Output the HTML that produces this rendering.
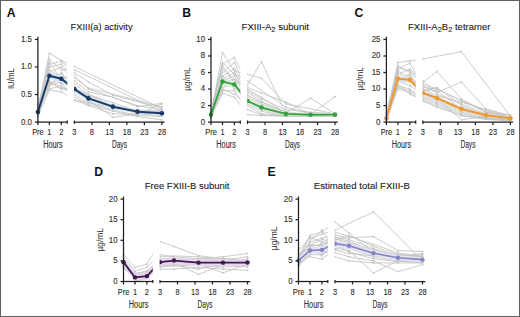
<!DOCTYPE html><html><head><meta charset="utf-8"><style>html,body{margin:0;padding:0;background:#fff;}svg{display:block;font-family:"Liberation Sans", sans-serif;}</style></head><body>
<svg width="520" height="317" viewBox="0 0 520 317">
<rect x="0" y="0" width="520" height="317" fill="#fff"/>
<defs></defs>
<g font-size="12.2" font-weight="bold" fill="#111">
<text x="6.8" y="16.7">A</text>
<text x="182.2" y="16.8">B</text>
<text x="354.5" y="16.8">C</text>
<text x="94.3" y="175.6">D</text>
<text x="267.6" y="175.6">E</text>
</g>
<clipPath id="hA"><rect x="31.9" y="19.45" width="35.3" height="105.65"/></clipPath>
<clipPath id="dA"><rect x="74.2" y="19.45" width="95.5" height="105.65"/></clipPath>
<g clip-path="url(#hA)">
<polyline points="37.9,108.32 49.4,53.22 61.3,60.39 74.4,66.45 161.9,108.6" fill="none" stroke="#c3c3c3" stroke-width="0.85" stroke-linejoin="round"/>
<polyline points="37.9,111.08 49.4,58.74 61.3,69.75 74.4,69.75 161.9,111.63" fill="none" stroke="#c3c3c3" stroke-width="0.85" stroke-linejoin="round"/>
<polyline points="37.9,109.98 49.4,64.25 61.3,61.49 74.4,72.51 88.4,81.88 112.9,95.1 161.9,108.32" fill="none" stroke="#c3c3c3" stroke-width="0.85" stroke-linejoin="round"/>
<polyline points="37.9,113.83 49.4,69.75 61.3,78.02 74.4,75.27 88.4,89.04 137.4,105.57 161.9,109.98" fill="none" stroke="#c3c3c3" stroke-width="0.85" stroke-linejoin="round"/>
<polyline points="37.9,112.18 49.4,72.51 61.3,67 74.4,80.78 88.4,91.79 112.9,97.3 137.4,106.67 161.9,103.37" fill="none" stroke="#c3c3c3" stroke-width="0.85" stroke-linejoin="round"/>
<polyline points="37.9,115.49 49.4,75.27 61.3,83.53 74.4,83.53 88.4,94.55 112.9,102.81 137.4,111.08 161.9,112.18" fill="none" stroke="#c3c3c3" stroke-width="0.85" stroke-linejoin="round"/>
<polyline points="37.9,111.08 49.4,78.02 61.3,73.61 74.4,86.28 88.4,97.3 112.9,105.57 137.4,111.08 161.9,113.83" fill="none" stroke="#c3c3c3" stroke-width="0.85" stroke-linejoin="round"/>
<polyline points="37.9,113.28 49.4,80.78 61.3,87.94 74.4,89.04 88.4,98.96 112.9,108.32 137.4,112.18 161.9,114.39" fill="none" stroke="#c3c3c3" stroke-width="0.85" stroke-linejoin="round"/>
<polyline points="37.9,108.32 49.4,83.53 61.3,79.12 74.4,91.79 88.4,100.06 112.9,117.36 137.4,113.83 161.9,115.49" fill="none" stroke="#c3c3c3" stroke-width="0.85" stroke-linejoin="round"/>
<polyline points="37.9,114.39 49.4,86.28 61.3,72.51 74.4,94.55 88.4,102.81 112.9,109.98 137.4,115.49 161.9,116.59" fill="none" stroke="#c3c3c3" stroke-width="0.85" stroke-linejoin="round"/>
<polyline points="37.9,109.98 49.4,89.04 61.3,85.73 74.4,97.3 88.4,104.47 112.9,111.08 137.4,116.59 161.9,119.9" fill="none" stroke="#c3c3c3" stroke-width="0.85" stroke-linejoin="round"/>
<polyline points="37.9,116.59 49.4,90.14 61.3,91.79 74.4,100.06 88.4,105.57 112.9,113.83 137.4,114.39 161.9,103.92" fill="none" stroke="#c3c3c3" stroke-width="0.85" stroke-linejoin="round"/>
<polyline points="37.9,105.57 49.4,67 61.3,64.25 74.4,78.02 88.4,87.94 161.9,106.67" fill="none" stroke="#c3c3c3" stroke-width="0.85" stroke-linejoin="round"/>
<polyline points="37.9,112.18 49.4,61.49 61.3,80.78 74.4,87.94 88.4,94.55 112.9,105.57 137.4,109.98 161.9,111.08" fill="none" stroke="#c3c3c3" stroke-width="0.85" stroke-linejoin="round"/>
<polyline points="37.9,111.08 49.4,82.43 61.3,89.04 74.4,90.14 88.4,95.65 112.9,106.67 137.4,111.08 161.9,112.18" fill="none" stroke="#c3c3c3" stroke-width="0.85" stroke-linejoin="round"/>
<polyline points="37.9,108.88 49.4,84.63 61.3,82.43 74.4,100.61 88.4,102.26 112.9,107.77 137.4,113.28 161.9,111.08" fill="none" stroke="#c3c3c3" stroke-width="0.85" stroke-linejoin="round"/>
<circle cx="37.9" cy="108.32" r="0.9" fill="#c3c3c3"/>
<circle cx="49.4" cy="53.22" r="0.9" fill="#c3c3c3"/>
<circle cx="61.3" cy="60.39" r="0.9" fill="#c3c3c3"/>
<circle cx="74.4" cy="66.45" r="0.9" fill="#c3c3c3"/>
<circle cx="161.9" cy="108.6" r="0.9" fill="#c3c3c3"/>
<circle cx="37.9" cy="111.08" r="0.9" fill="#c3c3c3"/>
<circle cx="49.4" cy="58.74" r="0.9" fill="#c3c3c3"/>
<circle cx="61.3" cy="69.75" r="0.9" fill="#c3c3c3"/>
<circle cx="74.4" cy="69.75" r="0.9" fill="#c3c3c3"/>
<circle cx="161.9" cy="111.63" r="0.9" fill="#c3c3c3"/>
<circle cx="37.9" cy="109.98" r="0.9" fill="#c3c3c3"/>
<circle cx="49.4" cy="64.25" r="0.9" fill="#c3c3c3"/>
<circle cx="61.3" cy="61.49" r="0.9" fill="#c3c3c3"/>
<circle cx="74.4" cy="72.51" r="0.9" fill="#c3c3c3"/>
<circle cx="88.4" cy="81.88" r="0.9" fill="#c3c3c3"/>
<circle cx="112.9" cy="95.1" r="0.9" fill="#c3c3c3"/>
<circle cx="161.9" cy="108.32" r="0.9" fill="#c3c3c3"/>
<circle cx="37.9" cy="113.83" r="0.9" fill="#c3c3c3"/>
<circle cx="49.4" cy="69.75" r="0.9" fill="#c3c3c3"/>
<circle cx="61.3" cy="78.02" r="0.9" fill="#c3c3c3"/>
<circle cx="74.4" cy="75.27" r="0.9" fill="#c3c3c3"/>
<circle cx="88.4" cy="89.04" r="0.9" fill="#c3c3c3"/>
<circle cx="137.4" cy="105.57" r="0.9" fill="#c3c3c3"/>
<circle cx="161.9" cy="109.98" r="0.9" fill="#c3c3c3"/>
<circle cx="37.9" cy="112.18" r="0.9" fill="#c3c3c3"/>
<circle cx="49.4" cy="72.51" r="0.9" fill="#c3c3c3"/>
<circle cx="61.3" cy="67" r="0.9" fill="#c3c3c3"/>
<circle cx="74.4" cy="80.78" r="0.9" fill="#c3c3c3"/>
<circle cx="88.4" cy="91.79" r="0.9" fill="#c3c3c3"/>
<circle cx="112.9" cy="97.3" r="0.9" fill="#c3c3c3"/>
<circle cx="137.4" cy="106.67" r="0.9" fill="#c3c3c3"/>
<circle cx="161.9" cy="103.37" r="0.9" fill="#c3c3c3"/>
<circle cx="37.9" cy="115.49" r="0.9" fill="#c3c3c3"/>
<circle cx="49.4" cy="75.27" r="0.9" fill="#c3c3c3"/>
<circle cx="61.3" cy="83.53" r="0.9" fill="#c3c3c3"/>
<circle cx="74.4" cy="83.53" r="0.9" fill="#c3c3c3"/>
<circle cx="88.4" cy="94.55" r="0.9" fill="#c3c3c3"/>
<circle cx="112.9" cy="102.81" r="0.9" fill="#c3c3c3"/>
<circle cx="137.4" cy="111.08" r="0.9" fill="#c3c3c3"/>
<circle cx="161.9" cy="112.18" r="0.9" fill="#c3c3c3"/>
<circle cx="37.9" cy="111.08" r="0.9" fill="#c3c3c3"/>
<circle cx="49.4" cy="78.02" r="0.9" fill="#c3c3c3"/>
<circle cx="61.3" cy="73.61" r="0.9" fill="#c3c3c3"/>
<circle cx="74.4" cy="86.28" r="0.9" fill="#c3c3c3"/>
<circle cx="88.4" cy="97.3" r="0.9" fill="#c3c3c3"/>
<circle cx="112.9" cy="105.57" r="0.9" fill="#c3c3c3"/>
<circle cx="137.4" cy="111.08" r="0.9" fill="#c3c3c3"/>
<circle cx="161.9" cy="113.83" r="0.9" fill="#c3c3c3"/>
<circle cx="37.9" cy="113.28" r="0.9" fill="#c3c3c3"/>
<circle cx="49.4" cy="80.78" r="0.9" fill="#c3c3c3"/>
<circle cx="61.3" cy="87.94" r="0.9" fill="#c3c3c3"/>
<circle cx="74.4" cy="89.04" r="0.9" fill="#c3c3c3"/>
<circle cx="88.4" cy="98.96" r="0.9" fill="#c3c3c3"/>
<circle cx="112.9" cy="108.32" r="0.9" fill="#c3c3c3"/>
<circle cx="137.4" cy="112.18" r="0.9" fill="#c3c3c3"/>
<circle cx="161.9" cy="114.39" r="0.9" fill="#c3c3c3"/>
<circle cx="37.9" cy="108.32" r="0.9" fill="#c3c3c3"/>
<circle cx="49.4" cy="83.53" r="0.9" fill="#c3c3c3"/>
<circle cx="61.3" cy="79.12" r="0.9" fill="#c3c3c3"/>
<circle cx="74.4" cy="91.79" r="0.9" fill="#c3c3c3"/>
<circle cx="88.4" cy="100.06" r="0.9" fill="#c3c3c3"/>
<circle cx="112.9" cy="117.36" r="0.9" fill="#c3c3c3"/>
<circle cx="137.4" cy="113.83" r="0.9" fill="#c3c3c3"/>
<circle cx="161.9" cy="115.49" r="0.9" fill="#c3c3c3"/>
<circle cx="37.9" cy="114.39" r="0.9" fill="#c3c3c3"/>
<circle cx="49.4" cy="86.28" r="0.9" fill="#c3c3c3"/>
<circle cx="61.3" cy="72.51" r="0.9" fill="#c3c3c3"/>
<circle cx="74.4" cy="94.55" r="0.9" fill="#c3c3c3"/>
<circle cx="88.4" cy="102.81" r="0.9" fill="#c3c3c3"/>
<circle cx="112.9" cy="109.98" r="0.9" fill="#c3c3c3"/>
<circle cx="137.4" cy="115.49" r="0.9" fill="#c3c3c3"/>
<circle cx="161.9" cy="116.59" r="0.9" fill="#c3c3c3"/>
<circle cx="37.9" cy="109.98" r="0.9" fill="#c3c3c3"/>
<circle cx="49.4" cy="89.04" r="0.9" fill="#c3c3c3"/>
<circle cx="61.3" cy="85.73" r="0.9" fill="#c3c3c3"/>
<circle cx="74.4" cy="97.3" r="0.9" fill="#c3c3c3"/>
<circle cx="88.4" cy="104.47" r="0.9" fill="#c3c3c3"/>
<circle cx="112.9" cy="111.08" r="0.9" fill="#c3c3c3"/>
<circle cx="137.4" cy="116.59" r="0.9" fill="#c3c3c3"/>
<circle cx="161.9" cy="119.9" r="0.9" fill="#c3c3c3"/>
<circle cx="37.9" cy="116.59" r="0.9" fill="#c3c3c3"/>
<circle cx="49.4" cy="90.14" r="0.9" fill="#c3c3c3"/>
<circle cx="61.3" cy="91.79" r="0.9" fill="#c3c3c3"/>
<circle cx="74.4" cy="100.06" r="0.9" fill="#c3c3c3"/>
<circle cx="88.4" cy="105.57" r="0.9" fill="#c3c3c3"/>
<circle cx="112.9" cy="113.83" r="0.9" fill="#c3c3c3"/>
<circle cx="137.4" cy="114.39" r="0.9" fill="#c3c3c3"/>
<circle cx="161.9" cy="103.92" r="0.9" fill="#c3c3c3"/>
<circle cx="37.9" cy="105.57" r="0.9" fill="#c3c3c3"/>
<circle cx="49.4" cy="67" r="0.9" fill="#c3c3c3"/>
<circle cx="61.3" cy="64.25" r="0.9" fill="#c3c3c3"/>
<circle cx="74.4" cy="78.02" r="0.9" fill="#c3c3c3"/>
<circle cx="88.4" cy="87.94" r="0.9" fill="#c3c3c3"/>
<circle cx="161.9" cy="106.67" r="0.9" fill="#c3c3c3"/>
<circle cx="37.9" cy="112.18" r="0.9" fill="#c3c3c3"/>
<circle cx="49.4" cy="61.49" r="0.9" fill="#c3c3c3"/>
<circle cx="61.3" cy="80.78" r="0.9" fill="#c3c3c3"/>
<circle cx="74.4" cy="87.94" r="0.9" fill="#c3c3c3"/>
<circle cx="88.4" cy="94.55" r="0.9" fill="#c3c3c3"/>
<circle cx="112.9" cy="105.57" r="0.9" fill="#c3c3c3"/>
<circle cx="137.4" cy="109.98" r="0.9" fill="#c3c3c3"/>
<circle cx="161.9" cy="111.08" r="0.9" fill="#c3c3c3"/>
<circle cx="37.9" cy="111.08" r="0.9" fill="#c3c3c3"/>
<circle cx="49.4" cy="82.43" r="0.9" fill="#c3c3c3"/>
<circle cx="61.3" cy="89.04" r="0.9" fill="#c3c3c3"/>
<circle cx="74.4" cy="90.14" r="0.9" fill="#c3c3c3"/>
<circle cx="88.4" cy="95.65" r="0.9" fill="#c3c3c3"/>
<circle cx="112.9" cy="106.67" r="0.9" fill="#c3c3c3"/>
<circle cx="137.4" cy="111.08" r="0.9" fill="#c3c3c3"/>
<circle cx="161.9" cy="112.18" r="0.9" fill="#c3c3c3"/>
<circle cx="37.9" cy="108.88" r="0.9" fill="#c3c3c3"/>
<circle cx="49.4" cy="84.63" r="0.9" fill="#c3c3c3"/>
<circle cx="61.3" cy="82.43" r="0.9" fill="#c3c3c3"/>
<circle cx="74.4" cy="100.61" r="0.9" fill="#c3c3c3"/>
<circle cx="88.4" cy="102.26" r="0.9" fill="#c3c3c3"/>
<circle cx="112.9" cy="107.77" r="0.9" fill="#c3c3c3"/>
<circle cx="137.4" cy="113.28" r="0.9" fill="#c3c3c3"/>
<circle cx="161.9" cy="111.08" r="0.9" fill="#c3c3c3"/>
<polygon points="37.9,109.76 49.4,72.51 61.3,75.43 74.4,86.28 88.4,96.2 112.9,105.02 137.4,110.25 161.9,111.91 161.9,114.66 137.4,113.01 112.9,108.32 88.4,100.61 74.4,91.8 61.3,82.04 49.4,79.12 37.9,114.17" fill="#d6e4f3" />
<polyline points="37.9,111.96 49.4,75.82 61.3,78.74 74.4,89.04 88.4,98.41 112.9,106.67 137.4,111.63 161.9,113.28" fill="none" stroke="#173a66" stroke-width="2.0" stroke-linejoin="round"/>
<circle cx="37.9" cy="111.96" r="2.3" fill="#173a66"/>
<circle cx="49.4" cy="75.82" r="2.3" fill="#173a66"/>
<circle cx="61.3" cy="78.74" r="2.3" fill="#173a66"/>
<circle cx="74.4" cy="89.04" r="2.3" fill="#173a66"/>
<circle cx="88.4" cy="98.41" r="2.3" fill="#173a66"/>
<circle cx="112.9" cy="106.67" r="2.3" fill="#173a66"/>
<circle cx="137.4" cy="111.63" r="2.3" fill="#173a66"/>
<circle cx="161.9" cy="113.28" r="2.3" fill="#173a66"/>
</g>
<g clip-path="url(#dA)">
<polyline points="37.9,108.32 49.4,53.22 61.3,60.39 74.4,66.45 161.9,108.6" fill="none" stroke="#c3c3c3" stroke-width="0.85" stroke-linejoin="round"/>
<polyline points="37.9,111.08 49.4,58.74 61.3,69.75 74.4,69.75 161.9,111.63" fill="none" stroke="#c3c3c3" stroke-width="0.85" stroke-linejoin="round"/>
<polyline points="37.9,109.98 49.4,64.25 61.3,61.49 74.4,72.51 88.4,81.88 112.9,95.1 161.9,108.32" fill="none" stroke="#c3c3c3" stroke-width="0.85" stroke-linejoin="round"/>
<polyline points="37.9,113.83 49.4,69.75 61.3,78.02 74.4,75.27 88.4,89.04 137.4,105.57 161.9,109.98" fill="none" stroke="#c3c3c3" stroke-width="0.85" stroke-linejoin="round"/>
<polyline points="37.9,112.18 49.4,72.51 61.3,67 74.4,80.78 88.4,91.79 112.9,97.3 137.4,106.67 161.9,103.37" fill="none" stroke="#c3c3c3" stroke-width="0.85" stroke-linejoin="round"/>
<polyline points="37.9,115.49 49.4,75.27 61.3,83.53 74.4,83.53 88.4,94.55 112.9,102.81 137.4,111.08 161.9,112.18" fill="none" stroke="#c3c3c3" stroke-width="0.85" stroke-linejoin="round"/>
<polyline points="37.9,111.08 49.4,78.02 61.3,73.61 74.4,86.28 88.4,97.3 112.9,105.57 137.4,111.08 161.9,113.83" fill="none" stroke="#c3c3c3" stroke-width="0.85" stroke-linejoin="round"/>
<polyline points="37.9,113.28 49.4,80.78 61.3,87.94 74.4,89.04 88.4,98.96 112.9,108.32 137.4,112.18 161.9,114.39" fill="none" stroke="#c3c3c3" stroke-width="0.85" stroke-linejoin="round"/>
<polyline points="37.9,108.32 49.4,83.53 61.3,79.12 74.4,91.79 88.4,100.06 112.9,117.36 137.4,113.83 161.9,115.49" fill="none" stroke="#c3c3c3" stroke-width="0.85" stroke-linejoin="round"/>
<polyline points="37.9,114.39 49.4,86.28 61.3,72.51 74.4,94.55 88.4,102.81 112.9,109.98 137.4,115.49 161.9,116.59" fill="none" stroke="#c3c3c3" stroke-width="0.85" stroke-linejoin="round"/>
<polyline points="37.9,109.98 49.4,89.04 61.3,85.73 74.4,97.3 88.4,104.47 112.9,111.08 137.4,116.59 161.9,119.9" fill="none" stroke="#c3c3c3" stroke-width="0.85" stroke-linejoin="round"/>
<polyline points="37.9,116.59 49.4,90.14 61.3,91.79 74.4,100.06 88.4,105.57 112.9,113.83 137.4,114.39 161.9,103.92" fill="none" stroke="#c3c3c3" stroke-width="0.85" stroke-linejoin="round"/>
<polyline points="37.9,105.57 49.4,67 61.3,64.25 74.4,78.02 88.4,87.94 161.9,106.67" fill="none" stroke="#c3c3c3" stroke-width="0.85" stroke-linejoin="round"/>
<polyline points="37.9,112.18 49.4,61.49 61.3,80.78 74.4,87.94 88.4,94.55 112.9,105.57 137.4,109.98 161.9,111.08" fill="none" stroke="#c3c3c3" stroke-width="0.85" stroke-linejoin="round"/>
<polyline points="37.9,111.08 49.4,82.43 61.3,89.04 74.4,90.14 88.4,95.65 112.9,106.67 137.4,111.08 161.9,112.18" fill="none" stroke="#c3c3c3" stroke-width="0.85" stroke-linejoin="round"/>
<polyline points="37.9,108.88 49.4,84.63 61.3,82.43 74.4,100.61 88.4,102.26 112.9,107.77 137.4,113.28 161.9,111.08" fill="none" stroke="#c3c3c3" stroke-width="0.85" stroke-linejoin="round"/>
<circle cx="37.9" cy="108.32" r="0.9" fill="#c3c3c3"/>
<circle cx="49.4" cy="53.22" r="0.9" fill="#c3c3c3"/>
<circle cx="61.3" cy="60.39" r="0.9" fill="#c3c3c3"/>
<circle cx="74.4" cy="66.45" r="0.9" fill="#c3c3c3"/>
<circle cx="161.9" cy="108.6" r="0.9" fill="#c3c3c3"/>
<circle cx="37.9" cy="111.08" r="0.9" fill="#c3c3c3"/>
<circle cx="49.4" cy="58.74" r="0.9" fill="#c3c3c3"/>
<circle cx="61.3" cy="69.75" r="0.9" fill="#c3c3c3"/>
<circle cx="74.4" cy="69.75" r="0.9" fill="#c3c3c3"/>
<circle cx="161.9" cy="111.63" r="0.9" fill="#c3c3c3"/>
<circle cx="37.9" cy="109.98" r="0.9" fill="#c3c3c3"/>
<circle cx="49.4" cy="64.25" r="0.9" fill="#c3c3c3"/>
<circle cx="61.3" cy="61.49" r="0.9" fill="#c3c3c3"/>
<circle cx="74.4" cy="72.51" r="0.9" fill="#c3c3c3"/>
<circle cx="88.4" cy="81.88" r="0.9" fill="#c3c3c3"/>
<circle cx="112.9" cy="95.1" r="0.9" fill="#c3c3c3"/>
<circle cx="161.9" cy="108.32" r="0.9" fill="#c3c3c3"/>
<circle cx="37.9" cy="113.83" r="0.9" fill="#c3c3c3"/>
<circle cx="49.4" cy="69.75" r="0.9" fill="#c3c3c3"/>
<circle cx="61.3" cy="78.02" r="0.9" fill="#c3c3c3"/>
<circle cx="74.4" cy="75.27" r="0.9" fill="#c3c3c3"/>
<circle cx="88.4" cy="89.04" r="0.9" fill="#c3c3c3"/>
<circle cx="137.4" cy="105.57" r="0.9" fill="#c3c3c3"/>
<circle cx="161.9" cy="109.98" r="0.9" fill="#c3c3c3"/>
<circle cx="37.9" cy="112.18" r="0.9" fill="#c3c3c3"/>
<circle cx="49.4" cy="72.51" r="0.9" fill="#c3c3c3"/>
<circle cx="61.3" cy="67" r="0.9" fill="#c3c3c3"/>
<circle cx="74.4" cy="80.78" r="0.9" fill="#c3c3c3"/>
<circle cx="88.4" cy="91.79" r="0.9" fill="#c3c3c3"/>
<circle cx="112.9" cy="97.3" r="0.9" fill="#c3c3c3"/>
<circle cx="137.4" cy="106.67" r="0.9" fill="#c3c3c3"/>
<circle cx="161.9" cy="103.37" r="0.9" fill="#c3c3c3"/>
<circle cx="37.9" cy="115.49" r="0.9" fill="#c3c3c3"/>
<circle cx="49.4" cy="75.27" r="0.9" fill="#c3c3c3"/>
<circle cx="61.3" cy="83.53" r="0.9" fill="#c3c3c3"/>
<circle cx="74.4" cy="83.53" r="0.9" fill="#c3c3c3"/>
<circle cx="88.4" cy="94.55" r="0.9" fill="#c3c3c3"/>
<circle cx="112.9" cy="102.81" r="0.9" fill="#c3c3c3"/>
<circle cx="137.4" cy="111.08" r="0.9" fill="#c3c3c3"/>
<circle cx="161.9" cy="112.18" r="0.9" fill="#c3c3c3"/>
<circle cx="37.9" cy="111.08" r="0.9" fill="#c3c3c3"/>
<circle cx="49.4" cy="78.02" r="0.9" fill="#c3c3c3"/>
<circle cx="61.3" cy="73.61" r="0.9" fill="#c3c3c3"/>
<circle cx="74.4" cy="86.28" r="0.9" fill="#c3c3c3"/>
<circle cx="88.4" cy="97.3" r="0.9" fill="#c3c3c3"/>
<circle cx="112.9" cy="105.57" r="0.9" fill="#c3c3c3"/>
<circle cx="137.4" cy="111.08" r="0.9" fill="#c3c3c3"/>
<circle cx="161.9" cy="113.83" r="0.9" fill="#c3c3c3"/>
<circle cx="37.9" cy="113.28" r="0.9" fill="#c3c3c3"/>
<circle cx="49.4" cy="80.78" r="0.9" fill="#c3c3c3"/>
<circle cx="61.3" cy="87.94" r="0.9" fill="#c3c3c3"/>
<circle cx="74.4" cy="89.04" r="0.9" fill="#c3c3c3"/>
<circle cx="88.4" cy="98.96" r="0.9" fill="#c3c3c3"/>
<circle cx="112.9" cy="108.32" r="0.9" fill="#c3c3c3"/>
<circle cx="137.4" cy="112.18" r="0.9" fill="#c3c3c3"/>
<circle cx="161.9" cy="114.39" r="0.9" fill="#c3c3c3"/>
<circle cx="37.9" cy="108.32" r="0.9" fill="#c3c3c3"/>
<circle cx="49.4" cy="83.53" r="0.9" fill="#c3c3c3"/>
<circle cx="61.3" cy="79.12" r="0.9" fill="#c3c3c3"/>
<circle cx="74.4" cy="91.79" r="0.9" fill="#c3c3c3"/>
<circle cx="88.4" cy="100.06" r="0.9" fill="#c3c3c3"/>
<circle cx="112.9" cy="117.36" r="0.9" fill="#c3c3c3"/>
<circle cx="137.4" cy="113.83" r="0.9" fill="#c3c3c3"/>
<circle cx="161.9" cy="115.49" r="0.9" fill="#c3c3c3"/>
<circle cx="37.9" cy="114.39" r="0.9" fill="#c3c3c3"/>
<circle cx="49.4" cy="86.28" r="0.9" fill="#c3c3c3"/>
<circle cx="61.3" cy="72.51" r="0.9" fill="#c3c3c3"/>
<circle cx="74.4" cy="94.55" r="0.9" fill="#c3c3c3"/>
<circle cx="88.4" cy="102.81" r="0.9" fill="#c3c3c3"/>
<circle cx="112.9" cy="109.98" r="0.9" fill="#c3c3c3"/>
<circle cx="137.4" cy="115.49" r="0.9" fill="#c3c3c3"/>
<circle cx="161.9" cy="116.59" r="0.9" fill="#c3c3c3"/>
<circle cx="37.9" cy="109.98" r="0.9" fill="#c3c3c3"/>
<circle cx="49.4" cy="89.04" r="0.9" fill="#c3c3c3"/>
<circle cx="61.3" cy="85.73" r="0.9" fill="#c3c3c3"/>
<circle cx="74.4" cy="97.3" r="0.9" fill="#c3c3c3"/>
<circle cx="88.4" cy="104.47" r="0.9" fill="#c3c3c3"/>
<circle cx="112.9" cy="111.08" r="0.9" fill="#c3c3c3"/>
<circle cx="137.4" cy="116.59" r="0.9" fill="#c3c3c3"/>
<circle cx="161.9" cy="119.9" r="0.9" fill="#c3c3c3"/>
<circle cx="37.9" cy="116.59" r="0.9" fill="#c3c3c3"/>
<circle cx="49.4" cy="90.14" r="0.9" fill="#c3c3c3"/>
<circle cx="61.3" cy="91.79" r="0.9" fill="#c3c3c3"/>
<circle cx="74.4" cy="100.06" r="0.9" fill="#c3c3c3"/>
<circle cx="88.4" cy="105.57" r="0.9" fill="#c3c3c3"/>
<circle cx="112.9" cy="113.83" r="0.9" fill="#c3c3c3"/>
<circle cx="137.4" cy="114.39" r="0.9" fill="#c3c3c3"/>
<circle cx="161.9" cy="103.92" r="0.9" fill="#c3c3c3"/>
<circle cx="37.9" cy="105.57" r="0.9" fill="#c3c3c3"/>
<circle cx="49.4" cy="67" r="0.9" fill="#c3c3c3"/>
<circle cx="61.3" cy="64.25" r="0.9" fill="#c3c3c3"/>
<circle cx="74.4" cy="78.02" r="0.9" fill="#c3c3c3"/>
<circle cx="88.4" cy="87.94" r="0.9" fill="#c3c3c3"/>
<circle cx="161.9" cy="106.67" r="0.9" fill="#c3c3c3"/>
<circle cx="37.9" cy="112.18" r="0.9" fill="#c3c3c3"/>
<circle cx="49.4" cy="61.49" r="0.9" fill="#c3c3c3"/>
<circle cx="61.3" cy="80.78" r="0.9" fill="#c3c3c3"/>
<circle cx="74.4" cy="87.94" r="0.9" fill="#c3c3c3"/>
<circle cx="88.4" cy="94.55" r="0.9" fill="#c3c3c3"/>
<circle cx="112.9" cy="105.57" r="0.9" fill="#c3c3c3"/>
<circle cx="137.4" cy="109.98" r="0.9" fill="#c3c3c3"/>
<circle cx="161.9" cy="111.08" r="0.9" fill="#c3c3c3"/>
<circle cx="37.9" cy="111.08" r="0.9" fill="#c3c3c3"/>
<circle cx="49.4" cy="82.43" r="0.9" fill="#c3c3c3"/>
<circle cx="61.3" cy="89.04" r="0.9" fill="#c3c3c3"/>
<circle cx="74.4" cy="90.14" r="0.9" fill="#c3c3c3"/>
<circle cx="88.4" cy="95.65" r="0.9" fill="#c3c3c3"/>
<circle cx="112.9" cy="106.67" r="0.9" fill="#c3c3c3"/>
<circle cx="137.4" cy="111.08" r="0.9" fill="#c3c3c3"/>
<circle cx="161.9" cy="112.18" r="0.9" fill="#c3c3c3"/>
<circle cx="37.9" cy="108.88" r="0.9" fill="#c3c3c3"/>
<circle cx="49.4" cy="84.63" r="0.9" fill="#c3c3c3"/>
<circle cx="61.3" cy="82.43" r="0.9" fill="#c3c3c3"/>
<circle cx="74.4" cy="100.61" r="0.9" fill="#c3c3c3"/>
<circle cx="88.4" cy="102.26" r="0.9" fill="#c3c3c3"/>
<circle cx="112.9" cy="107.77" r="0.9" fill="#c3c3c3"/>
<circle cx="137.4" cy="113.28" r="0.9" fill="#c3c3c3"/>
<circle cx="161.9" cy="111.08" r="0.9" fill="#c3c3c3"/>
<polygon points="37.9,109.76 49.4,72.51 61.3,75.43 74.4,86.28 88.4,96.2 112.9,105.02 137.4,110.25 161.9,111.91 161.9,114.66 137.4,113.01 112.9,108.32 88.4,100.61 74.4,91.8 61.3,82.04 49.4,79.12 37.9,114.17" fill="#d6e4f3" />
<polyline points="37.9,111.96 49.4,75.82 61.3,78.74 74.4,89.04 88.4,98.41 112.9,106.67 137.4,111.63 161.9,113.28" fill="none" stroke="#173a66" stroke-width="2.0" stroke-linejoin="round"/>
<circle cx="37.9" cy="111.96" r="2.3" fill="#173a66"/>
<circle cx="49.4" cy="75.82" r="2.3" fill="#173a66"/>
<circle cx="61.3" cy="78.74" r="2.3" fill="#173a66"/>
<circle cx="74.4" cy="89.04" r="2.3" fill="#173a66"/>
<circle cx="88.4" cy="98.41" r="2.3" fill="#173a66"/>
<circle cx="112.9" cy="106.67" r="2.3" fill="#173a66"/>
<circle cx="137.4" cy="111.63" r="2.3" fill="#173a66"/>
<circle cx="161.9" cy="113.28" r="2.3" fill="#173a66"/>
</g>
<g stroke="#1e1e1e" stroke-width="1.25" fill="none">
<line x1="37.9" y1="36.85" x2="37.9" y2="125.1"/>
<line x1="34.9" y1="122.1" x2="37.9" y2="122.1"/>
<line x1="34.9" y1="94.55" x2="37.9" y2="94.55"/>
<line x1="34.9" y1="67" x2="37.9" y2="67"/>
<line x1="34.9" y1="39.45" x2="37.9" y2="39.45"/>
<line x1="37.9" y1="122.1" x2="67.2" y2="122.1"/>
<line x1="67.2" y1="120.5" x2="67.2" y2="123.7"/>
<line x1="49.4" y1="122.1" x2="49.4" y2="125.1"/>
<line x1="61.3" y1="122.1" x2="61.3" y2="125.1"/>
<line x1="74.4" y1="122.1" x2="164.7" y2="122.1"/>
<line x1="74.4" y1="120.5" x2="74.4" y2="123.9"/>
<line x1="91.9" y1="122.1" x2="91.9" y2="125.1"/>
<line x1="109.4" y1="122.1" x2="109.4" y2="125.1"/>
<line x1="126.9" y1="122.1" x2="126.9" y2="125.1"/>
<line x1="144.4" y1="122.1" x2="144.4" y2="125.1"/>
<line x1="161.9" y1="122.1" x2="161.9" y2="125.1"/>
</g>
<g fill="#2e2e2e" stroke="#2e2e2e" stroke-width="0.12">
<text x="32" y="124.55" font-size="9.0" text-anchor="end" textLength="10.98" lengthAdjust="spacingAndGlyphs">0.0</text>
<text x="32" y="97" font-size="9.0" text-anchor="end" textLength="10.98" lengthAdjust="spacingAndGlyphs">0.5</text>
<text x="32" y="69.45" font-size="9.0" text-anchor="end" textLength="10.98" lengthAdjust="spacingAndGlyphs">1.0</text>
<text x="32" y="41.9" font-size="9.0" text-anchor="end" textLength="10.98" lengthAdjust="spacingAndGlyphs">1.5</text>
<text x="37.9" y="135" font-size="9.0" text-anchor="middle" textLength="11.52" lengthAdjust="spacingAndGlyphs">Pre</text>
<text x="49.4" y="135" font-size="9.0" text-anchor="middle" textLength="4.12" lengthAdjust="spacingAndGlyphs">1</text>
<text x="61.3" y="135" font-size="9.0" text-anchor="middle" textLength="4.12" lengthAdjust="spacingAndGlyphs">2</text>
<text x="74.4" y="135" font-size="9.0" text-anchor="middle" textLength="4.12" lengthAdjust="spacingAndGlyphs">3</text>
<text x="91.9" y="135" font-size="9.0" text-anchor="middle" textLength="4.12" lengthAdjust="spacingAndGlyphs">8</text>
<text x="109.4" y="135" font-size="9.0" text-anchor="middle" textLength="8.23" lengthAdjust="spacingAndGlyphs">13</text>
<text x="126.9" y="135" font-size="9.0" text-anchor="middle" textLength="8.23" lengthAdjust="spacingAndGlyphs">18</text>
<text x="144.4" y="135" font-size="9.0" text-anchor="middle" textLength="8.23" lengthAdjust="spacingAndGlyphs">23</text>
<text x="161.9" y="135" font-size="9.0" text-anchor="middle" textLength="8.23" lengthAdjust="spacingAndGlyphs">28</text>
<text x="52.95" y="148" font-size="10.0" text-anchor="middle" textLength="19.47" lengthAdjust="spacingAndGlyphs">Hours</text>
<text x="119.45" y="148" font-size="10.0" text-anchor="middle" textLength="15.04" lengthAdjust="spacingAndGlyphs">Days</text>
</g>
<text transform="translate(14.4,78.6) rotate(-90)" font-size="8.8" fill="#2e2e2e" text-anchor="middle" textLength="21" lengthAdjust="spacingAndGlyphs">IU/mL</text>
<text x="70.6" y="30.4" font-size="9.7" fill="#222" stroke="#222" stroke-width="0.1" textLength="62" lengthAdjust="spacingAndGlyphs">FXIII(a) activity</text>
<clipPath id="hB"><rect x="205" y="19.45" width="35.3" height="105.65"/></clipPath>
<clipPath id="dB"><rect x="247.3" y="19.45" width="95.5" height="105.65"/></clipPath>
<g clip-path="url(#hB)">
<polyline points="211,113.83 222.5,52.67 234.4,70.86 247.5,74.16 261.5,78.3 286,103.92 335,113.83" fill="none" stroke="#c3c3c3" stroke-width="0.85" stroke-linejoin="round"/>
<polyline points="211,115.49 222.5,64.25 234.4,57.63 247.5,84.91 261.5,61.77 286,113.83 310.5,114.66 335,114.66" fill="none" stroke="#c3c3c3" stroke-width="0.85" stroke-linejoin="round"/>
<polyline points="211,112.18 222.5,65.9 234.4,80.78 247.5,89.04 261.5,97.3 286,113.01 310.5,98.13 335,113.83" fill="none" stroke="#c3c3c3" stroke-width="0.85" stroke-linejoin="round"/>
<polyline points="211,117.14 222.5,72.51 234.4,62.59 247.5,92.35 261.5,101.44 286,112.18 310.5,114.66 335,96.48" fill="none" stroke="#c3c3c3" stroke-width="0.85" stroke-linejoin="round"/>
<polyline points="211,114.66 222.5,76.64 234.4,68.38 247.5,94.83 261.5,103.92 286,113.83 310.5,113.83 335,114.66" fill="none" stroke="#c3c3c3" stroke-width="0.85" stroke-linejoin="round"/>
<polyline points="211,110.53 222.5,68.38 234.4,82.43 247.5,97.3 261.5,105.57 286,114.66 310.5,115.49 335,115.49" fill="none" stroke="#c3c3c3" stroke-width="0.85" stroke-linejoin="round"/>
<polyline points="211,117.97 222.5,80.78 234.4,75.82 247.5,98.96 261.5,107.22 286,115.49 310.5,114.66 335,115.49" fill="none" stroke="#c3c3c3" stroke-width="0.85" stroke-linejoin="round"/>
<polyline points="211,113.83 222.5,84.08 234.4,87.39 247.5,101.44 261.5,109.7 286,114.66 310.5,115.49 335,114.66" fill="none" stroke="#c3c3c3" stroke-width="0.85" stroke-linejoin="round"/>
<polyline points="211,116.31 222.5,87.39 234.4,84.08 247.5,103.92 261.5,111.36 286,115.49 310.5,115.49 335,115.49" fill="none" stroke="#c3c3c3" stroke-width="0.85" stroke-linejoin="round"/>
<polyline points="211,113.01 222.5,89.04 234.4,94 247.5,105.57 261.5,113.83 286,115.49 310.5,115.49 335,115.49" fill="none" stroke="#c3c3c3" stroke-width="0.85" stroke-linejoin="round"/>
<polyline points="211,115.49 222.5,90.69 234.4,90.69 247.5,109.7 261.5,114.66 286,116.31 310.5,116.31 335,116.31" fill="none" stroke="#c3c3c3" stroke-width="0.85" stroke-linejoin="round"/>
<polyline points="211,117.14 222.5,93.17 234.4,97.3 247.5,114.66 261.5,115.49 286,116.31 310.5,116.31 335,116.31" fill="none" stroke="#c3c3c3" stroke-width="0.85" stroke-linejoin="round"/>
<polyline points="211,111.36 222.5,62.59 234.4,74.16 247.5,80.78 286,107.22 310.5,113.83 335,113.83" fill="none" stroke="#c3c3c3" stroke-width="0.85" stroke-linejoin="round"/>
<polyline points="211,114.66 222.5,75.82 234.4,89.04 247.5,90.69 261.5,98.96 286,109.7 310.5,112.18 335,113.83" fill="none" stroke="#c3c3c3" stroke-width="0.85" stroke-linejoin="round"/>
<polyline points="211,113.83 222.5,82.43 234.4,79.12 247.5,87.39 261.5,93.17 286,102.26 310.5,113.83 335,113.83" fill="none" stroke="#c3c3c3" stroke-width="0.85" stroke-linejoin="round"/>
<polyline points="211,116.31 222.5,79.12 234.4,72.51 247.5,95.65 261.5,102.26 286,113.01 310.5,114.66 335,115.49" fill="none" stroke="#c3c3c3" stroke-width="0.85" stroke-linejoin="round"/>
<circle cx="211" cy="113.83" r="0.9" fill="#c3c3c3"/>
<circle cx="222.5" cy="52.67" r="0.9" fill="#c3c3c3"/>
<circle cx="234.4" cy="70.86" r="0.9" fill="#c3c3c3"/>
<circle cx="247.5" cy="74.16" r="0.9" fill="#c3c3c3"/>
<circle cx="261.5" cy="78.3" r="0.9" fill="#c3c3c3"/>
<circle cx="286" cy="103.92" r="0.9" fill="#c3c3c3"/>
<circle cx="335" cy="113.83" r="0.9" fill="#c3c3c3"/>
<circle cx="211" cy="115.49" r="0.9" fill="#c3c3c3"/>
<circle cx="222.5" cy="64.25" r="0.9" fill="#c3c3c3"/>
<circle cx="234.4" cy="57.63" r="0.9" fill="#c3c3c3"/>
<circle cx="247.5" cy="84.91" r="0.9" fill="#c3c3c3"/>
<circle cx="261.5" cy="61.77" r="0.9" fill="#c3c3c3"/>
<circle cx="286" cy="113.83" r="0.9" fill="#c3c3c3"/>
<circle cx="310.5" cy="114.66" r="0.9" fill="#c3c3c3"/>
<circle cx="335" cy="114.66" r="0.9" fill="#c3c3c3"/>
<circle cx="211" cy="112.18" r="0.9" fill="#c3c3c3"/>
<circle cx="222.5" cy="65.9" r="0.9" fill="#c3c3c3"/>
<circle cx="234.4" cy="80.78" r="0.9" fill="#c3c3c3"/>
<circle cx="247.5" cy="89.04" r="0.9" fill="#c3c3c3"/>
<circle cx="261.5" cy="97.3" r="0.9" fill="#c3c3c3"/>
<circle cx="286" cy="113.01" r="0.9" fill="#c3c3c3"/>
<circle cx="310.5" cy="98.13" r="0.9" fill="#c3c3c3"/>
<circle cx="335" cy="113.83" r="0.9" fill="#c3c3c3"/>
<circle cx="211" cy="117.14" r="0.9" fill="#c3c3c3"/>
<circle cx="222.5" cy="72.51" r="0.9" fill="#c3c3c3"/>
<circle cx="234.4" cy="62.59" r="0.9" fill="#c3c3c3"/>
<circle cx="247.5" cy="92.35" r="0.9" fill="#c3c3c3"/>
<circle cx="261.5" cy="101.44" r="0.9" fill="#c3c3c3"/>
<circle cx="286" cy="112.18" r="0.9" fill="#c3c3c3"/>
<circle cx="310.5" cy="114.66" r="0.9" fill="#c3c3c3"/>
<circle cx="335" cy="96.48" r="0.9" fill="#c3c3c3"/>
<circle cx="211" cy="114.66" r="0.9" fill="#c3c3c3"/>
<circle cx="222.5" cy="76.64" r="0.9" fill="#c3c3c3"/>
<circle cx="234.4" cy="68.38" r="0.9" fill="#c3c3c3"/>
<circle cx="247.5" cy="94.83" r="0.9" fill="#c3c3c3"/>
<circle cx="261.5" cy="103.92" r="0.9" fill="#c3c3c3"/>
<circle cx="286" cy="113.83" r="0.9" fill="#c3c3c3"/>
<circle cx="310.5" cy="113.83" r="0.9" fill="#c3c3c3"/>
<circle cx="335" cy="114.66" r="0.9" fill="#c3c3c3"/>
<circle cx="211" cy="110.53" r="0.9" fill="#c3c3c3"/>
<circle cx="222.5" cy="68.38" r="0.9" fill="#c3c3c3"/>
<circle cx="234.4" cy="82.43" r="0.9" fill="#c3c3c3"/>
<circle cx="247.5" cy="97.3" r="0.9" fill="#c3c3c3"/>
<circle cx="261.5" cy="105.57" r="0.9" fill="#c3c3c3"/>
<circle cx="286" cy="114.66" r="0.9" fill="#c3c3c3"/>
<circle cx="310.5" cy="115.49" r="0.9" fill="#c3c3c3"/>
<circle cx="335" cy="115.49" r="0.9" fill="#c3c3c3"/>
<circle cx="211" cy="117.97" r="0.9" fill="#c3c3c3"/>
<circle cx="222.5" cy="80.78" r="0.9" fill="#c3c3c3"/>
<circle cx="234.4" cy="75.82" r="0.9" fill="#c3c3c3"/>
<circle cx="247.5" cy="98.96" r="0.9" fill="#c3c3c3"/>
<circle cx="261.5" cy="107.22" r="0.9" fill="#c3c3c3"/>
<circle cx="286" cy="115.49" r="0.9" fill="#c3c3c3"/>
<circle cx="310.5" cy="114.66" r="0.9" fill="#c3c3c3"/>
<circle cx="335" cy="115.49" r="0.9" fill="#c3c3c3"/>
<circle cx="211" cy="113.83" r="0.9" fill="#c3c3c3"/>
<circle cx="222.5" cy="84.08" r="0.9" fill="#c3c3c3"/>
<circle cx="234.4" cy="87.39" r="0.9" fill="#c3c3c3"/>
<circle cx="247.5" cy="101.44" r="0.9" fill="#c3c3c3"/>
<circle cx="261.5" cy="109.7" r="0.9" fill="#c3c3c3"/>
<circle cx="286" cy="114.66" r="0.9" fill="#c3c3c3"/>
<circle cx="310.5" cy="115.49" r="0.9" fill="#c3c3c3"/>
<circle cx="335" cy="114.66" r="0.9" fill="#c3c3c3"/>
<circle cx="211" cy="116.31" r="0.9" fill="#c3c3c3"/>
<circle cx="222.5" cy="87.39" r="0.9" fill="#c3c3c3"/>
<circle cx="234.4" cy="84.08" r="0.9" fill="#c3c3c3"/>
<circle cx="247.5" cy="103.92" r="0.9" fill="#c3c3c3"/>
<circle cx="261.5" cy="111.36" r="0.9" fill="#c3c3c3"/>
<circle cx="286" cy="115.49" r="0.9" fill="#c3c3c3"/>
<circle cx="310.5" cy="115.49" r="0.9" fill="#c3c3c3"/>
<circle cx="335" cy="115.49" r="0.9" fill="#c3c3c3"/>
<circle cx="211" cy="113.01" r="0.9" fill="#c3c3c3"/>
<circle cx="222.5" cy="89.04" r="0.9" fill="#c3c3c3"/>
<circle cx="234.4" cy="94" r="0.9" fill="#c3c3c3"/>
<circle cx="247.5" cy="105.57" r="0.9" fill="#c3c3c3"/>
<circle cx="261.5" cy="113.83" r="0.9" fill="#c3c3c3"/>
<circle cx="286" cy="115.49" r="0.9" fill="#c3c3c3"/>
<circle cx="310.5" cy="115.49" r="0.9" fill="#c3c3c3"/>
<circle cx="335" cy="115.49" r="0.9" fill="#c3c3c3"/>
<circle cx="211" cy="115.49" r="0.9" fill="#c3c3c3"/>
<circle cx="222.5" cy="90.69" r="0.9" fill="#c3c3c3"/>
<circle cx="234.4" cy="90.69" r="0.9" fill="#c3c3c3"/>
<circle cx="247.5" cy="109.7" r="0.9" fill="#c3c3c3"/>
<circle cx="261.5" cy="114.66" r="0.9" fill="#c3c3c3"/>
<circle cx="286" cy="116.31" r="0.9" fill="#c3c3c3"/>
<circle cx="310.5" cy="116.31" r="0.9" fill="#c3c3c3"/>
<circle cx="335" cy="116.31" r="0.9" fill="#c3c3c3"/>
<circle cx="211" cy="117.14" r="0.9" fill="#c3c3c3"/>
<circle cx="222.5" cy="93.17" r="0.9" fill="#c3c3c3"/>
<circle cx="234.4" cy="97.3" r="0.9" fill="#c3c3c3"/>
<circle cx="247.5" cy="114.66" r="0.9" fill="#c3c3c3"/>
<circle cx="261.5" cy="115.49" r="0.9" fill="#c3c3c3"/>
<circle cx="286" cy="116.31" r="0.9" fill="#c3c3c3"/>
<circle cx="310.5" cy="116.31" r="0.9" fill="#c3c3c3"/>
<circle cx="335" cy="116.31" r="0.9" fill="#c3c3c3"/>
<circle cx="211" cy="111.36" r="0.9" fill="#c3c3c3"/>
<circle cx="222.5" cy="62.59" r="0.9" fill="#c3c3c3"/>
<circle cx="234.4" cy="74.16" r="0.9" fill="#c3c3c3"/>
<circle cx="247.5" cy="80.78" r="0.9" fill="#c3c3c3"/>
<circle cx="286" cy="107.22" r="0.9" fill="#c3c3c3"/>
<circle cx="310.5" cy="113.83" r="0.9" fill="#c3c3c3"/>
<circle cx="335" cy="113.83" r="0.9" fill="#c3c3c3"/>
<circle cx="211" cy="114.66" r="0.9" fill="#c3c3c3"/>
<circle cx="222.5" cy="75.82" r="0.9" fill="#c3c3c3"/>
<circle cx="234.4" cy="89.04" r="0.9" fill="#c3c3c3"/>
<circle cx="247.5" cy="90.69" r="0.9" fill="#c3c3c3"/>
<circle cx="261.5" cy="98.96" r="0.9" fill="#c3c3c3"/>
<circle cx="286" cy="109.7" r="0.9" fill="#c3c3c3"/>
<circle cx="310.5" cy="112.18" r="0.9" fill="#c3c3c3"/>
<circle cx="335" cy="113.83" r="0.9" fill="#c3c3c3"/>
<circle cx="211" cy="113.83" r="0.9" fill="#c3c3c3"/>
<circle cx="222.5" cy="82.43" r="0.9" fill="#c3c3c3"/>
<circle cx="234.4" cy="79.12" r="0.9" fill="#c3c3c3"/>
<circle cx="247.5" cy="87.39" r="0.9" fill="#c3c3c3"/>
<circle cx="261.5" cy="93.17" r="0.9" fill="#c3c3c3"/>
<circle cx="286" cy="102.26" r="0.9" fill="#c3c3c3"/>
<circle cx="310.5" cy="113.83" r="0.9" fill="#c3c3c3"/>
<circle cx="335" cy="113.83" r="0.9" fill="#c3c3c3"/>
<circle cx="211" cy="116.31" r="0.9" fill="#c3c3c3"/>
<circle cx="222.5" cy="79.12" r="0.9" fill="#c3c3c3"/>
<circle cx="234.4" cy="72.51" r="0.9" fill="#c3c3c3"/>
<circle cx="247.5" cy="95.65" r="0.9" fill="#c3c3c3"/>
<circle cx="261.5" cy="102.26" r="0.9" fill="#c3c3c3"/>
<circle cx="286" cy="113.01" r="0.9" fill="#c3c3c3"/>
<circle cx="310.5" cy="114.66" r="0.9" fill="#c3c3c3"/>
<circle cx="335" cy="115.49" r="0.9" fill="#c3c3c3"/>
<polygon points="211,112.6 222.5,78.3 234.4,81.19 247.5,98.05 261.5,105.49 286,112.26 310.5,113.09 335,113.01 335,116.31 310.5,116.4 286,115.57 261.5,109.62 247.5,103.83 234.4,87.8 222.5,84.91 211,116.73" fill="#d9eed6" />
<polyline points="211,114.66 222.5,81.6 234.4,84.49 247.5,100.94 261.5,107.55 286,113.92 310.5,114.74 335,114.66" fill="none" stroke="#34a042" stroke-width="1.8" stroke-linejoin="round"/>
<circle cx="211" cy="114.66" r="2.3" fill="#34a042"/>
<circle cx="222.5" cy="81.6" r="2.3" fill="#34a042"/>
<circle cx="234.4" cy="84.49" r="2.3" fill="#34a042"/>
<circle cx="247.5" cy="100.94" r="2.3" fill="#34a042"/>
<circle cx="261.5" cy="107.55" r="2.3" fill="#34a042"/>
<circle cx="286" cy="113.92" r="2.3" fill="#34a042"/>
<circle cx="310.5" cy="114.74" r="2.3" fill="#34a042"/>
<circle cx="335" cy="114.66" r="2.3" fill="#34a042"/>
</g>
<g clip-path="url(#dB)">
<polyline points="211,113.83 222.5,52.67 234.4,70.86 247.5,74.16 261.5,78.3 286,103.92 335,113.83" fill="none" stroke="#c3c3c3" stroke-width="0.85" stroke-linejoin="round"/>
<polyline points="211,115.49 222.5,64.25 234.4,57.63 247.5,84.91 261.5,61.77 286,113.83 310.5,114.66 335,114.66" fill="none" stroke="#c3c3c3" stroke-width="0.85" stroke-linejoin="round"/>
<polyline points="211,112.18 222.5,65.9 234.4,80.78 247.5,89.04 261.5,97.3 286,113.01 310.5,98.13 335,113.83" fill="none" stroke="#c3c3c3" stroke-width="0.85" stroke-linejoin="round"/>
<polyline points="211,117.14 222.5,72.51 234.4,62.59 247.5,92.35 261.5,101.44 286,112.18 310.5,114.66 335,96.48" fill="none" stroke="#c3c3c3" stroke-width="0.85" stroke-linejoin="round"/>
<polyline points="211,114.66 222.5,76.64 234.4,68.38 247.5,94.83 261.5,103.92 286,113.83 310.5,113.83 335,114.66" fill="none" stroke="#c3c3c3" stroke-width="0.85" stroke-linejoin="round"/>
<polyline points="211,110.53 222.5,68.38 234.4,82.43 247.5,97.3 261.5,105.57 286,114.66 310.5,115.49 335,115.49" fill="none" stroke="#c3c3c3" stroke-width="0.85" stroke-linejoin="round"/>
<polyline points="211,117.97 222.5,80.78 234.4,75.82 247.5,98.96 261.5,107.22 286,115.49 310.5,114.66 335,115.49" fill="none" stroke="#c3c3c3" stroke-width="0.85" stroke-linejoin="round"/>
<polyline points="211,113.83 222.5,84.08 234.4,87.39 247.5,101.44 261.5,109.7 286,114.66 310.5,115.49 335,114.66" fill="none" stroke="#c3c3c3" stroke-width="0.85" stroke-linejoin="round"/>
<polyline points="211,116.31 222.5,87.39 234.4,84.08 247.5,103.92 261.5,111.36 286,115.49 310.5,115.49 335,115.49" fill="none" stroke="#c3c3c3" stroke-width="0.85" stroke-linejoin="round"/>
<polyline points="211,113.01 222.5,89.04 234.4,94 247.5,105.57 261.5,113.83 286,115.49 310.5,115.49 335,115.49" fill="none" stroke="#c3c3c3" stroke-width="0.85" stroke-linejoin="round"/>
<polyline points="211,115.49 222.5,90.69 234.4,90.69 247.5,109.7 261.5,114.66 286,116.31 310.5,116.31 335,116.31" fill="none" stroke="#c3c3c3" stroke-width="0.85" stroke-linejoin="round"/>
<polyline points="211,117.14 222.5,93.17 234.4,97.3 247.5,114.66 261.5,115.49 286,116.31 310.5,116.31 335,116.31" fill="none" stroke="#c3c3c3" stroke-width="0.85" stroke-linejoin="round"/>
<polyline points="211,111.36 222.5,62.59 234.4,74.16 247.5,80.78 286,107.22 310.5,113.83 335,113.83" fill="none" stroke="#c3c3c3" stroke-width="0.85" stroke-linejoin="round"/>
<polyline points="211,114.66 222.5,75.82 234.4,89.04 247.5,90.69 261.5,98.96 286,109.7 310.5,112.18 335,113.83" fill="none" stroke="#c3c3c3" stroke-width="0.85" stroke-linejoin="round"/>
<polyline points="211,113.83 222.5,82.43 234.4,79.12 247.5,87.39 261.5,93.17 286,102.26 310.5,113.83 335,113.83" fill="none" stroke="#c3c3c3" stroke-width="0.85" stroke-linejoin="round"/>
<polyline points="211,116.31 222.5,79.12 234.4,72.51 247.5,95.65 261.5,102.26 286,113.01 310.5,114.66 335,115.49" fill="none" stroke="#c3c3c3" stroke-width="0.85" stroke-linejoin="round"/>
<circle cx="211" cy="113.83" r="0.9" fill="#c3c3c3"/>
<circle cx="222.5" cy="52.67" r="0.9" fill="#c3c3c3"/>
<circle cx="234.4" cy="70.86" r="0.9" fill="#c3c3c3"/>
<circle cx="247.5" cy="74.16" r="0.9" fill="#c3c3c3"/>
<circle cx="261.5" cy="78.3" r="0.9" fill="#c3c3c3"/>
<circle cx="286" cy="103.92" r="0.9" fill="#c3c3c3"/>
<circle cx="335" cy="113.83" r="0.9" fill="#c3c3c3"/>
<circle cx="211" cy="115.49" r="0.9" fill="#c3c3c3"/>
<circle cx="222.5" cy="64.25" r="0.9" fill="#c3c3c3"/>
<circle cx="234.4" cy="57.63" r="0.9" fill="#c3c3c3"/>
<circle cx="247.5" cy="84.91" r="0.9" fill="#c3c3c3"/>
<circle cx="261.5" cy="61.77" r="0.9" fill="#c3c3c3"/>
<circle cx="286" cy="113.83" r="0.9" fill="#c3c3c3"/>
<circle cx="310.5" cy="114.66" r="0.9" fill="#c3c3c3"/>
<circle cx="335" cy="114.66" r="0.9" fill="#c3c3c3"/>
<circle cx="211" cy="112.18" r="0.9" fill="#c3c3c3"/>
<circle cx="222.5" cy="65.9" r="0.9" fill="#c3c3c3"/>
<circle cx="234.4" cy="80.78" r="0.9" fill="#c3c3c3"/>
<circle cx="247.5" cy="89.04" r="0.9" fill="#c3c3c3"/>
<circle cx="261.5" cy="97.3" r="0.9" fill="#c3c3c3"/>
<circle cx="286" cy="113.01" r="0.9" fill="#c3c3c3"/>
<circle cx="310.5" cy="98.13" r="0.9" fill="#c3c3c3"/>
<circle cx="335" cy="113.83" r="0.9" fill="#c3c3c3"/>
<circle cx="211" cy="117.14" r="0.9" fill="#c3c3c3"/>
<circle cx="222.5" cy="72.51" r="0.9" fill="#c3c3c3"/>
<circle cx="234.4" cy="62.59" r="0.9" fill="#c3c3c3"/>
<circle cx="247.5" cy="92.35" r="0.9" fill="#c3c3c3"/>
<circle cx="261.5" cy="101.44" r="0.9" fill="#c3c3c3"/>
<circle cx="286" cy="112.18" r="0.9" fill="#c3c3c3"/>
<circle cx="310.5" cy="114.66" r="0.9" fill="#c3c3c3"/>
<circle cx="335" cy="96.48" r="0.9" fill="#c3c3c3"/>
<circle cx="211" cy="114.66" r="0.9" fill="#c3c3c3"/>
<circle cx="222.5" cy="76.64" r="0.9" fill="#c3c3c3"/>
<circle cx="234.4" cy="68.38" r="0.9" fill="#c3c3c3"/>
<circle cx="247.5" cy="94.83" r="0.9" fill="#c3c3c3"/>
<circle cx="261.5" cy="103.92" r="0.9" fill="#c3c3c3"/>
<circle cx="286" cy="113.83" r="0.9" fill="#c3c3c3"/>
<circle cx="310.5" cy="113.83" r="0.9" fill="#c3c3c3"/>
<circle cx="335" cy="114.66" r="0.9" fill="#c3c3c3"/>
<circle cx="211" cy="110.53" r="0.9" fill="#c3c3c3"/>
<circle cx="222.5" cy="68.38" r="0.9" fill="#c3c3c3"/>
<circle cx="234.4" cy="82.43" r="0.9" fill="#c3c3c3"/>
<circle cx="247.5" cy="97.3" r="0.9" fill="#c3c3c3"/>
<circle cx="261.5" cy="105.57" r="0.9" fill="#c3c3c3"/>
<circle cx="286" cy="114.66" r="0.9" fill="#c3c3c3"/>
<circle cx="310.5" cy="115.49" r="0.9" fill="#c3c3c3"/>
<circle cx="335" cy="115.49" r="0.9" fill="#c3c3c3"/>
<circle cx="211" cy="117.97" r="0.9" fill="#c3c3c3"/>
<circle cx="222.5" cy="80.78" r="0.9" fill="#c3c3c3"/>
<circle cx="234.4" cy="75.82" r="0.9" fill="#c3c3c3"/>
<circle cx="247.5" cy="98.96" r="0.9" fill="#c3c3c3"/>
<circle cx="261.5" cy="107.22" r="0.9" fill="#c3c3c3"/>
<circle cx="286" cy="115.49" r="0.9" fill="#c3c3c3"/>
<circle cx="310.5" cy="114.66" r="0.9" fill="#c3c3c3"/>
<circle cx="335" cy="115.49" r="0.9" fill="#c3c3c3"/>
<circle cx="211" cy="113.83" r="0.9" fill="#c3c3c3"/>
<circle cx="222.5" cy="84.08" r="0.9" fill="#c3c3c3"/>
<circle cx="234.4" cy="87.39" r="0.9" fill="#c3c3c3"/>
<circle cx="247.5" cy="101.44" r="0.9" fill="#c3c3c3"/>
<circle cx="261.5" cy="109.7" r="0.9" fill="#c3c3c3"/>
<circle cx="286" cy="114.66" r="0.9" fill="#c3c3c3"/>
<circle cx="310.5" cy="115.49" r="0.9" fill="#c3c3c3"/>
<circle cx="335" cy="114.66" r="0.9" fill="#c3c3c3"/>
<circle cx="211" cy="116.31" r="0.9" fill="#c3c3c3"/>
<circle cx="222.5" cy="87.39" r="0.9" fill="#c3c3c3"/>
<circle cx="234.4" cy="84.08" r="0.9" fill="#c3c3c3"/>
<circle cx="247.5" cy="103.92" r="0.9" fill="#c3c3c3"/>
<circle cx="261.5" cy="111.36" r="0.9" fill="#c3c3c3"/>
<circle cx="286" cy="115.49" r="0.9" fill="#c3c3c3"/>
<circle cx="310.5" cy="115.49" r="0.9" fill="#c3c3c3"/>
<circle cx="335" cy="115.49" r="0.9" fill="#c3c3c3"/>
<circle cx="211" cy="113.01" r="0.9" fill="#c3c3c3"/>
<circle cx="222.5" cy="89.04" r="0.9" fill="#c3c3c3"/>
<circle cx="234.4" cy="94" r="0.9" fill="#c3c3c3"/>
<circle cx="247.5" cy="105.57" r="0.9" fill="#c3c3c3"/>
<circle cx="261.5" cy="113.83" r="0.9" fill="#c3c3c3"/>
<circle cx="286" cy="115.49" r="0.9" fill="#c3c3c3"/>
<circle cx="310.5" cy="115.49" r="0.9" fill="#c3c3c3"/>
<circle cx="335" cy="115.49" r="0.9" fill="#c3c3c3"/>
<circle cx="211" cy="115.49" r="0.9" fill="#c3c3c3"/>
<circle cx="222.5" cy="90.69" r="0.9" fill="#c3c3c3"/>
<circle cx="234.4" cy="90.69" r="0.9" fill="#c3c3c3"/>
<circle cx="247.5" cy="109.7" r="0.9" fill="#c3c3c3"/>
<circle cx="261.5" cy="114.66" r="0.9" fill="#c3c3c3"/>
<circle cx="286" cy="116.31" r="0.9" fill="#c3c3c3"/>
<circle cx="310.5" cy="116.31" r="0.9" fill="#c3c3c3"/>
<circle cx="335" cy="116.31" r="0.9" fill="#c3c3c3"/>
<circle cx="211" cy="117.14" r="0.9" fill="#c3c3c3"/>
<circle cx="222.5" cy="93.17" r="0.9" fill="#c3c3c3"/>
<circle cx="234.4" cy="97.3" r="0.9" fill="#c3c3c3"/>
<circle cx="247.5" cy="114.66" r="0.9" fill="#c3c3c3"/>
<circle cx="261.5" cy="115.49" r="0.9" fill="#c3c3c3"/>
<circle cx="286" cy="116.31" r="0.9" fill="#c3c3c3"/>
<circle cx="310.5" cy="116.31" r="0.9" fill="#c3c3c3"/>
<circle cx="335" cy="116.31" r="0.9" fill="#c3c3c3"/>
<circle cx="211" cy="111.36" r="0.9" fill="#c3c3c3"/>
<circle cx="222.5" cy="62.59" r="0.9" fill="#c3c3c3"/>
<circle cx="234.4" cy="74.16" r="0.9" fill="#c3c3c3"/>
<circle cx="247.5" cy="80.78" r="0.9" fill="#c3c3c3"/>
<circle cx="286" cy="107.22" r="0.9" fill="#c3c3c3"/>
<circle cx="310.5" cy="113.83" r="0.9" fill="#c3c3c3"/>
<circle cx="335" cy="113.83" r="0.9" fill="#c3c3c3"/>
<circle cx="211" cy="114.66" r="0.9" fill="#c3c3c3"/>
<circle cx="222.5" cy="75.82" r="0.9" fill="#c3c3c3"/>
<circle cx="234.4" cy="89.04" r="0.9" fill="#c3c3c3"/>
<circle cx="247.5" cy="90.69" r="0.9" fill="#c3c3c3"/>
<circle cx="261.5" cy="98.96" r="0.9" fill="#c3c3c3"/>
<circle cx="286" cy="109.7" r="0.9" fill="#c3c3c3"/>
<circle cx="310.5" cy="112.18" r="0.9" fill="#c3c3c3"/>
<circle cx="335" cy="113.83" r="0.9" fill="#c3c3c3"/>
<circle cx="211" cy="113.83" r="0.9" fill="#c3c3c3"/>
<circle cx="222.5" cy="82.43" r="0.9" fill="#c3c3c3"/>
<circle cx="234.4" cy="79.12" r="0.9" fill="#c3c3c3"/>
<circle cx="247.5" cy="87.39" r="0.9" fill="#c3c3c3"/>
<circle cx="261.5" cy="93.17" r="0.9" fill="#c3c3c3"/>
<circle cx="286" cy="102.26" r="0.9" fill="#c3c3c3"/>
<circle cx="310.5" cy="113.83" r="0.9" fill="#c3c3c3"/>
<circle cx="335" cy="113.83" r="0.9" fill="#c3c3c3"/>
<circle cx="211" cy="116.31" r="0.9" fill="#c3c3c3"/>
<circle cx="222.5" cy="79.12" r="0.9" fill="#c3c3c3"/>
<circle cx="234.4" cy="72.51" r="0.9" fill="#c3c3c3"/>
<circle cx="247.5" cy="95.65" r="0.9" fill="#c3c3c3"/>
<circle cx="261.5" cy="102.26" r="0.9" fill="#c3c3c3"/>
<circle cx="286" cy="113.01" r="0.9" fill="#c3c3c3"/>
<circle cx="310.5" cy="114.66" r="0.9" fill="#c3c3c3"/>
<circle cx="335" cy="115.49" r="0.9" fill="#c3c3c3"/>
<polygon points="211,112.6 222.5,78.3 234.4,81.19 247.5,98.05 261.5,105.49 286,112.26 310.5,113.09 335,113.01 335,116.31 310.5,116.4 286,115.57 261.5,109.62 247.5,103.83 234.4,87.8 222.5,84.91 211,116.73" fill="#d9eed6" />
<polyline points="211,114.66 222.5,81.6 234.4,84.49 247.5,100.94 261.5,107.55 286,113.92 310.5,114.74 335,114.66" fill="none" stroke="#34a042" stroke-width="1.8" stroke-linejoin="round"/>
<circle cx="211" cy="114.66" r="2.3" fill="#34a042"/>
<circle cx="222.5" cy="81.6" r="2.3" fill="#34a042"/>
<circle cx="234.4" cy="84.49" r="2.3" fill="#34a042"/>
<circle cx="247.5" cy="100.94" r="2.3" fill="#34a042"/>
<circle cx="261.5" cy="107.55" r="2.3" fill="#34a042"/>
<circle cx="286" cy="113.92" r="2.3" fill="#34a042"/>
<circle cx="310.5" cy="114.74" r="2.3" fill="#34a042"/>
<circle cx="335" cy="114.66" r="2.3" fill="#34a042"/>
</g>
<g stroke="#1e1e1e" stroke-width="1.25" fill="none">
<line x1="211" y1="36.85" x2="211" y2="125.1"/>
<line x1="208" y1="122.1" x2="211" y2="122.1"/>
<line x1="208" y1="105.57" x2="211" y2="105.57"/>
<line x1="208" y1="89.04" x2="211" y2="89.04"/>
<line x1="208" y1="72.51" x2="211" y2="72.51"/>
<line x1="208" y1="55.98" x2="211" y2="55.98"/>
<line x1="208" y1="39.45" x2="211" y2="39.45"/>
<line x1="211" y1="122.1" x2="240.3" y2="122.1"/>
<line x1="240.3" y1="120.5" x2="240.3" y2="123.7"/>
<line x1="222.5" y1="122.1" x2="222.5" y2="125.1"/>
<line x1="234.4" y1="122.1" x2="234.4" y2="125.1"/>
<line x1="247.5" y1="122.1" x2="337.8" y2="122.1"/>
<line x1="247.5" y1="120.5" x2="247.5" y2="123.9"/>
<line x1="265" y1="122.1" x2="265" y2="125.1"/>
<line x1="282.5" y1="122.1" x2="282.5" y2="125.1"/>
<line x1="300" y1="122.1" x2="300" y2="125.1"/>
<line x1="317.5" y1="122.1" x2="317.5" y2="125.1"/>
<line x1="335" y1="122.1" x2="335" y2="125.1"/>
</g>
<g fill="#2e2e2e" stroke="#2e2e2e" stroke-width="0.12">
<text x="205.1" y="124.55" font-size="9.0" text-anchor="end" textLength="4.39" lengthAdjust="spacingAndGlyphs">0</text>
<text x="205.1" y="108.02" font-size="9.0" text-anchor="end" textLength="4.39" lengthAdjust="spacingAndGlyphs">2</text>
<text x="205.1" y="91.49" font-size="9.0" text-anchor="end" textLength="4.39" lengthAdjust="spacingAndGlyphs">4</text>
<text x="205.1" y="74.96" font-size="9.0" text-anchor="end" textLength="4.39" lengthAdjust="spacingAndGlyphs">6</text>
<text x="205.1" y="58.43" font-size="9.0" text-anchor="end" textLength="4.39" lengthAdjust="spacingAndGlyphs">8</text>
<text x="205.1" y="41.9" font-size="9.0" text-anchor="end" textLength="8.79" lengthAdjust="spacingAndGlyphs">10</text>
<text x="211" y="135" font-size="9.0" text-anchor="middle" textLength="11.52" lengthAdjust="spacingAndGlyphs">Pre</text>
<text x="222.5" y="135" font-size="9.0" text-anchor="middle" textLength="4.12" lengthAdjust="spacingAndGlyphs">1</text>
<text x="234.4" y="135" font-size="9.0" text-anchor="middle" textLength="4.12" lengthAdjust="spacingAndGlyphs">2</text>
<text x="247.5" y="135" font-size="9.0" text-anchor="middle" textLength="4.12" lengthAdjust="spacingAndGlyphs">3</text>
<text x="265" y="135" font-size="9.0" text-anchor="middle" textLength="4.12" lengthAdjust="spacingAndGlyphs">8</text>
<text x="282.5" y="135" font-size="9.0" text-anchor="middle" textLength="8.23" lengthAdjust="spacingAndGlyphs">13</text>
<text x="300" y="135" font-size="9.0" text-anchor="middle" textLength="8.23" lengthAdjust="spacingAndGlyphs">18</text>
<text x="317.5" y="135" font-size="9.0" text-anchor="middle" textLength="8.23" lengthAdjust="spacingAndGlyphs">23</text>
<text x="335" y="135" font-size="9.0" text-anchor="middle" textLength="8.23" lengthAdjust="spacingAndGlyphs">28</text>
<text x="226.05" y="148" font-size="10.0" text-anchor="middle" textLength="19.47" lengthAdjust="spacingAndGlyphs">Hours</text>
<text x="292.55" y="148" font-size="10.0" text-anchor="middle" textLength="15.04" lengthAdjust="spacingAndGlyphs">Days</text>
</g>
<text transform="translate(189.8,79) rotate(-90)" font-size="8.8" fill="#2e2e2e" text-anchor="middle" textLength="23.5" lengthAdjust="spacingAndGlyphs">µg/mL</text>
<text x="241.6" y="30.4" font-size="9.7" fill="#222" stroke="#222" stroke-width="0.1" textLength="67.4" lengthAdjust="spacingAndGlyphs">FXIII-A<tspan font-size="7.6" dy="2.0">2</tspan><tspan dy="-2.0"> subunit</tspan></text>
<clipPath id="hC"><rect x="380.4" y="19.45" width="35.3" height="105.65"/></clipPath>
<clipPath id="dC"><rect x="422.7" y="19.45" width="95.5" height="105.65"/></clipPath>
<g clip-path="url(#hC)">
<polyline points="386.4,117.14 397.9,62.59 409.8,60.94 422.9,58.96 461.4,51.68 510.4,116.15" fill="none" stroke="#c3c3c3" stroke-width="0.85" stroke-linejoin="round"/>
<polyline points="386.4,115.49 397.9,65.9 409.8,72.51 422.9,82.43 436.9,71.52 461.4,98.96 485.9,112.18 510.4,117.14" fill="none" stroke="#c3c3c3" stroke-width="0.85" stroke-linejoin="round"/>
<polyline points="386.4,118.79 397.9,69.2 409.8,63.25 422.9,85.73 436.9,92.35 461.4,82.1 485.9,108.88 510.4,115.49" fill="none" stroke="#c3c3c3" stroke-width="0.85" stroke-linejoin="round"/>
<polyline points="386.4,119.46 397.9,70.86 409.8,77.47 422.9,87.39 436.9,89.04 461.4,100.61 485.9,110.53 510.4,118.13" fill="none" stroke="#c3c3c3" stroke-width="0.85" stroke-linejoin="round"/>
<polyline points="386.4,118.13 397.9,74.16 409.8,69.2 422.9,80.78 436.9,94 461.4,103.92 485.9,113.83 510.4,118.79" fill="none" stroke="#c3c3c3" stroke-width="0.85" stroke-linejoin="round"/>
<polyline points="386.4,120.12 397.9,75.82 409.8,82.43 422.9,90.69 436.9,87.39 461.4,105.57 485.9,115.49 510.4,118.79" fill="none" stroke="#c3c3c3" stroke-width="0.85" stroke-linejoin="round"/>
<polyline points="386.4,118.79 397.9,79.12 409.8,74.16 422.9,92.35 436.9,97.3 461.4,107.22 485.9,115.49 510.4,119.46" fill="none" stroke="#c3c3c3" stroke-width="0.85" stroke-linejoin="round"/>
<polyline points="386.4,119.12 397.9,80.78 409.8,85.73 422.9,94 436.9,98.96 461.4,119.79 485.9,116.15 510.4,119.46" fill="none" stroke="#c3c3c3" stroke-width="0.85" stroke-linejoin="round"/>
<polyline points="386.4,117.47 397.9,82.43 409.8,79.12 422.9,95.65 436.9,100.61 461.4,110.53 485.9,117.14 510.4,119.79" fill="none" stroke="#c3c3c3" stroke-width="0.85" stroke-linejoin="round"/>
<polyline points="386.4,119.79 397.9,85.73 409.8,89.04 422.9,97.3 436.9,102.26 461.4,112.18 485.9,118.13 510.4,120.12" fill="none" stroke="#c3c3c3" stroke-width="0.85" stroke-linejoin="round"/>
<polyline points="386.4,118.46 397.9,87.39 409.8,90.69 422.9,98.96 436.9,103.92 461.4,113.83 485.9,118.79 510.4,120.12" fill="none" stroke="#c3c3c3" stroke-width="0.85" stroke-linejoin="round"/>
<polyline points="386.4,120.45 397.9,84.08 409.8,94 422.9,100.61 436.9,105.57 461.4,115.49 485.9,118.79 510.4,120.45" fill="none" stroke="#c3c3c3" stroke-width="0.85" stroke-linejoin="round"/>
<polyline points="386.4,119.46 397.9,89.04 409.8,92.35 422.9,100.94 436.9,107.22 461.4,115.49 485.9,119.46 510.4,120.78" fill="none" stroke="#c3c3c3" stroke-width="0.85" stroke-linejoin="round"/>
<polyline points="386.4,112.18 397.9,67.55 409.8,70.86 422.9,84.08 436.9,89.04 485.9,112.18 510.4,114.83" fill="none" stroke="#c3c3c3" stroke-width="0.85" stroke-linejoin="round"/>
<polyline points="386.4,118.13 397.9,72.51 409.8,80.78 422.9,89.04 436.9,95.65 461.4,102.26 485.9,109.54 510.4,116.81" fill="none" stroke="#c3c3c3" stroke-width="0.85" stroke-linejoin="round"/>
<polyline points="386.4,119.12 397.9,77.47 409.8,75.82 422.9,89.7 436.9,90.69 461.4,108.88 485.9,113.5 510.4,118.13" fill="none" stroke="#c3c3c3" stroke-width="0.85" stroke-linejoin="round"/>
<circle cx="386.4" cy="117.14" r="0.9" fill="#c3c3c3"/>
<circle cx="397.9" cy="62.59" r="0.9" fill="#c3c3c3"/>
<circle cx="409.8" cy="60.94" r="0.9" fill="#c3c3c3"/>
<circle cx="422.9" cy="58.96" r="0.9" fill="#c3c3c3"/>
<circle cx="461.4" cy="51.68" r="0.9" fill="#c3c3c3"/>
<circle cx="510.4" cy="116.15" r="0.9" fill="#c3c3c3"/>
<circle cx="386.4" cy="115.49" r="0.9" fill="#c3c3c3"/>
<circle cx="397.9" cy="65.9" r="0.9" fill="#c3c3c3"/>
<circle cx="409.8" cy="72.51" r="0.9" fill="#c3c3c3"/>
<circle cx="422.9" cy="82.43" r="0.9" fill="#c3c3c3"/>
<circle cx="436.9" cy="71.52" r="0.9" fill="#c3c3c3"/>
<circle cx="461.4" cy="98.96" r="0.9" fill="#c3c3c3"/>
<circle cx="485.9" cy="112.18" r="0.9" fill="#c3c3c3"/>
<circle cx="510.4" cy="117.14" r="0.9" fill="#c3c3c3"/>
<circle cx="386.4" cy="118.79" r="0.9" fill="#c3c3c3"/>
<circle cx="397.9" cy="69.2" r="0.9" fill="#c3c3c3"/>
<circle cx="409.8" cy="63.25" r="0.9" fill="#c3c3c3"/>
<circle cx="422.9" cy="85.73" r="0.9" fill="#c3c3c3"/>
<circle cx="436.9" cy="92.35" r="0.9" fill="#c3c3c3"/>
<circle cx="461.4" cy="82.1" r="0.9" fill="#c3c3c3"/>
<circle cx="485.9" cy="108.88" r="0.9" fill="#c3c3c3"/>
<circle cx="510.4" cy="115.49" r="0.9" fill="#c3c3c3"/>
<circle cx="386.4" cy="119.46" r="0.9" fill="#c3c3c3"/>
<circle cx="397.9" cy="70.86" r="0.9" fill="#c3c3c3"/>
<circle cx="409.8" cy="77.47" r="0.9" fill="#c3c3c3"/>
<circle cx="422.9" cy="87.39" r="0.9" fill="#c3c3c3"/>
<circle cx="436.9" cy="89.04" r="0.9" fill="#c3c3c3"/>
<circle cx="461.4" cy="100.61" r="0.9" fill="#c3c3c3"/>
<circle cx="485.9" cy="110.53" r="0.9" fill="#c3c3c3"/>
<circle cx="510.4" cy="118.13" r="0.9" fill="#c3c3c3"/>
<circle cx="386.4" cy="118.13" r="0.9" fill="#c3c3c3"/>
<circle cx="397.9" cy="74.16" r="0.9" fill="#c3c3c3"/>
<circle cx="409.8" cy="69.2" r="0.9" fill="#c3c3c3"/>
<circle cx="422.9" cy="80.78" r="0.9" fill="#c3c3c3"/>
<circle cx="436.9" cy="94" r="0.9" fill="#c3c3c3"/>
<circle cx="461.4" cy="103.92" r="0.9" fill="#c3c3c3"/>
<circle cx="485.9" cy="113.83" r="0.9" fill="#c3c3c3"/>
<circle cx="510.4" cy="118.79" r="0.9" fill="#c3c3c3"/>
<circle cx="386.4" cy="120.12" r="0.9" fill="#c3c3c3"/>
<circle cx="397.9" cy="75.82" r="0.9" fill="#c3c3c3"/>
<circle cx="409.8" cy="82.43" r="0.9" fill="#c3c3c3"/>
<circle cx="422.9" cy="90.69" r="0.9" fill="#c3c3c3"/>
<circle cx="436.9" cy="87.39" r="0.9" fill="#c3c3c3"/>
<circle cx="461.4" cy="105.57" r="0.9" fill="#c3c3c3"/>
<circle cx="485.9" cy="115.49" r="0.9" fill="#c3c3c3"/>
<circle cx="510.4" cy="118.79" r="0.9" fill="#c3c3c3"/>
<circle cx="386.4" cy="118.79" r="0.9" fill="#c3c3c3"/>
<circle cx="397.9" cy="79.12" r="0.9" fill="#c3c3c3"/>
<circle cx="409.8" cy="74.16" r="0.9" fill="#c3c3c3"/>
<circle cx="422.9" cy="92.35" r="0.9" fill="#c3c3c3"/>
<circle cx="436.9" cy="97.3" r="0.9" fill="#c3c3c3"/>
<circle cx="461.4" cy="107.22" r="0.9" fill="#c3c3c3"/>
<circle cx="485.9" cy="115.49" r="0.9" fill="#c3c3c3"/>
<circle cx="510.4" cy="119.46" r="0.9" fill="#c3c3c3"/>
<circle cx="386.4" cy="119.12" r="0.9" fill="#c3c3c3"/>
<circle cx="397.9" cy="80.78" r="0.9" fill="#c3c3c3"/>
<circle cx="409.8" cy="85.73" r="0.9" fill="#c3c3c3"/>
<circle cx="422.9" cy="94" r="0.9" fill="#c3c3c3"/>
<circle cx="436.9" cy="98.96" r="0.9" fill="#c3c3c3"/>
<circle cx="461.4" cy="119.79" r="0.9" fill="#c3c3c3"/>
<circle cx="485.9" cy="116.15" r="0.9" fill="#c3c3c3"/>
<circle cx="510.4" cy="119.46" r="0.9" fill="#c3c3c3"/>
<circle cx="386.4" cy="117.47" r="0.9" fill="#c3c3c3"/>
<circle cx="397.9" cy="82.43" r="0.9" fill="#c3c3c3"/>
<circle cx="409.8" cy="79.12" r="0.9" fill="#c3c3c3"/>
<circle cx="422.9" cy="95.65" r="0.9" fill="#c3c3c3"/>
<circle cx="436.9" cy="100.61" r="0.9" fill="#c3c3c3"/>
<circle cx="461.4" cy="110.53" r="0.9" fill="#c3c3c3"/>
<circle cx="485.9" cy="117.14" r="0.9" fill="#c3c3c3"/>
<circle cx="510.4" cy="119.79" r="0.9" fill="#c3c3c3"/>
<circle cx="386.4" cy="119.79" r="0.9" fill="#c3c3c3"/>
<circle cx="397.9" cy="85.73" r="0.9" fill="#c3c3c3"/>
<circle cx="409.8" cy="89.04" r="0.9" fill="#c3c3c3"/>
<circle cx="422.9" cy="97.3" r="0.9" fill="#c3c3c3"/>
<circle cx="436.9" cy="102.26" r="0.9" fill="#c3c3c3"/>
<circle cx="461.4" cy="112.18" r="0.9" fill="#c3c3c3"/>
<circle cx="485.9" cy="118.13" r="0.9" fill="#c3c3c3"/>
<circle cx="510.4" cy="120.12" r="0.9" fill="#c3c3c3"/>
<circle cx="386.4" cy="118.46" r="0.9" fill="#c3c3c3"/>
<circle cx="397.9" cy="87.39" r="0.9" fill="#c3c3c3"/>
<circle cx="409.8" cy="90.69" r="0.9" fill="#c3c3c3"/>
<circle cx="422.9" cy="98.96" r="0.9" fill="#c3c3c3"/>
<circle cx="436.9" cy="103.92" r="0.9" fill="#c3c3c3"/>
<circle cx="461.4" cy="113.83" r="0.9" fill="#c3c3c3"/>
<circle cx="485.9" cy="118.79" r="0.9" fill="#c3c3c3"/>
<circle cx="510.4" cy="120.12" r="0.9" fill="#c3c3c3"/>
<circle cx="386.4" cy="120.45" r="0.9" fill="#c3c3c3"/>
<circle cx="397.9" cy="84.08" r="0.9" fill="#c3c3c3"/>
<circle cx="409.8" cy="94" r="0.9" fill="#c3c3c3"/>
<circle cx="422.9" cy="100.61" r="0.9" fill="#c3c3c3"/>
<circle cx="436.9" cy="105.57" r="0.9" fill="#c3c3c3"/>
<circle cx="461.4" cy="115.49" r="0.9" fill="#c3c3c3"/>
<circle cx="485.9" cy="118.79" r="0.9" fill="#c3c3c3"/>
<circle cx="510.4" cy="120.45" r="0.9" fill="#c3c3c3"/>
<circle cx="386.4" cy="119.46" r="0.9" fill="#c3c3c3"/>
<circle cx="397.9" cy="89.04" r="0.9" fill="#c3c3c3"/>
<circle cx="409.8" cy="92.35" r="0.9" fill="#c3c3c3"/>
<circle cx="422.9" cy="100.94" r="0.9" fill="#c3c3c3"/>
<circle cx="436.9" cy="107.22" r="0.9" fill="#c3c3c3"/>
<circle cx="461.4" cy="115.49" r="0.9" fill="#c3c3c3"/>
<circle cx="485.9" cy="119.46" r="0.9" fill="#c3c3c3"/>
<circle cx="510.4" cy="120.78" r="0.9" fill="#c3c3c3"/>
<circle cx="386.4" cy="112.18" r="0.9" fill="#c3c3c3"/>
<circle cx="397.9" cy="67.55" r="0.9" fill="#c3c3c3"/>
<circle cx="409.8" cy="70.86" r="0.9" fill="#c3c3c3"/>
<circle cx="422.9" cy="84.08" r="0.9" fill="#c3c3c3"/>
<circle cx="436.9" cy="89.04" r="0.9" fill="#c3c3c3"/>
<circle cx="485.9" cy="112.18" r="0.9" fill="#c3c3c3"/>
<circle cx="510.4" cy="114.83" r="0.9" fill="#c3c3c3"/>
<circle cx="386.4" cy="118.13" r="0.9" fill="#c3c3c3"/>
<circle cx="397.9" cy="72.51" r="0.9" fill="#c3c3c3"/>
<circle cx="409.8" cy="80.78" r="0.9" fill="#c3c3c3"/>
<circle cx="422.9" cy="89.04" r="0.9" fill="#c3c3c3"/>
<circle cx="436.9" cy="95.65" r="0.9" fill="#c3c3c3"/>
<circle cx="461.4" cy="102.26" r="0.9" fill="#c3c3c3"/>
<circle cx="485.9" cy="109.54" r="0.9" fill="#c3c3c3"/>
<circle cx="510.4" cy="116.81" r="0.9" fill="#c3c3c3"/>
<circle cx="386.4" cy="119.12" r="0.9" fill="#c3c3c3"/>
<circle cx="397.9" cy="77.47" r="0.9" fill="#c3c3c3"/>
<circle cx="409.8" cy="75.82" r="0.9" fill="#c3c3c3"/>
<circle cx="422.9" cy="89.7" r="0.9" fill="#c3c3c3"/>
<circle cx="436.9" cy="90.69" r="0.9" fill="#c3c3c3"/>
<circle cx="461.4" cy="108.88" r="0.9" fill="#c3c3c3"/>
<circle cx="485.9" cy="113.5" r="0.9" fill="#c3c3c3"/>
<circle cx="510.4" cy="118.13" r="0.9" fill="#c3c3c3"/>
<polygon points="386.4,117.04 397.9,75.49 409.8,76.48 422.9,90.36 436.9,95.65 461.4,107.39 485.9,113.93 510.4,117.37 510.4,119.36 485.9,116.58 461.4,110.69 436.9,100.28 422.9,95.65 409.8,83.09 397.9,82.1 386.4,119.69" fill="#dfe2f2" />
<polyline points="386.4,118.36 397.9,78.79 409.8,79.78 422.9,93.01 436.9,97.97 461.4,109.04 485.9,115.26 510.4,118.36" fill="none" stroke="#ee9a2a" stroke-width="2.0" stroke-linejoin="round"/>
<circle cx="386.4" cy="118.36" r="2.3" fill="#ee9a2a"/>
<circle cx="397.9" cy="78.79" r="2.3" fill="#ee9a2a"/>
<circle cx="409.8" cy="79.78" r="2.3" fill="#ee9a2a"/>
<circle cx="422.9" cy="93.01" r="2.3" fill="#ee9a2a"/>
<circle cx="436.9" cy="97.97" r="2.3" fill="#ee9a2a"/>
<circle cx="461.4" cy="109.04" r="2.3" fill="#ee9a2a"/>
<circle cx="485.9" cy="115.26" r="2.3" fill="#ee9a2a"/>
<circle cx="510.4" cy="118.36" r="2.3" fill="#ee9a2a"/>
</g>
<g clip-path="url(#dC)">
<polyline points="386.4,117.14 397.9,62.59 409.8,60.94 422.9,58.96 461.4,51.68 510.4,116.15" fill="none" stroke="#c3c3c3" stroke-width="0.85" stroke-linejoin="round"/>
<polyline points="386.4,115.49 397.9,65.9 409.8,72.51 422.9,82.43 436.9,71.52 461.4,98.96 485.9,112.18 510.4,117.14" fill="none" stroke="#c3c3c3" stroke-width="0.85" stroke-linejoin="round"/>
<polyline points="386.4,118.79 397.9,69.2 409.8,63.25 422.9,85.73 436.9,92.35 461.4,82.1 485.9,108.88 510.4,115.49" fill="none" stroke="#c3c3c3" stroke-width="0.85" stroke-linejoin="round"/>
<polyline points="386.4,119.46 397.9,70.86 409.8,77.47 422.9,87.39 436.9,89.04 461.4,100.61 485.9,110.53 510.4,118.13" fill="none" stroke="#c3c3c3" stroke-width="0.85" stroke-linejoin="round"/>
<polyline points="386.4,118.13 397.9,74.16 409.8,69.2 422.9,80.78 436.9,94 461.4,103.92 485.9,113.83 510.4,118.79" fill="none" stroke="#c3c3c3" stroke-width="0.85" stroke-linejoin="round"/>
<polyline points="386.4,120.12 397.9,75.82 409.8,82.43 422.9,90.69 436.9,87.39 461.4,105.57 485.9,115.49 510.4,118.79" fill="none" stroke="#c3c3c3" stroke-width="0.85" stroke-linejoin="round"/>
<polyline points="386.4,118.79 397.9,79.12 409.8,74.16 422.9,92.35 436.9,97.3 461.4,107.22 485.9,115.49 510.4,119.46" fill="none" stroke="#c3c3c3" stroke-width="0.85" stroke-linejoin="round"/>
<polyline points="386.4,119.12 397.9,80.78 409.8,85.73 422.9,94 436.9,98.96 461.4,119.79 485.9,116.15 510.4,119.46" fill="none" stroke="#c3c3c3" stroke-width="0.85" stroke-linejoin="round"/>
<polyline points="386.4,117.47 397.9,82.43 409.8,79.12 422.9,95.65 436.9,100.61 461.4,110.53 485.9,117.14 510.4,119.79" fill="none" stroke="#c3c3c3" stroke-width="0.85" stroke-linejoin="round"/>
<polyline points="386.4,119.79 397.9,85.73 409.8,89.04 422.9,97.3 436.9,102.26 461.4,112.18 485.9,118.13 510.4,120.12" fill="none" stroke="#c3c3c3" stroke-width="0.85" stroke-linejoin="round"/>
<polyline points="386.4,118.46 397.9,87.39 409.8,90.69 422.9,98.96 436.9,103.92 461.4,113.83 485.9,118.79 510.4,120.12" fill="none" stroke="#c3c3c3" stroke-width="0.85" stroke-linejoin="round"/>
<polyline points="386.4,120.45 397.9,84.08 409.8,94 422.9,100.61 436.9,105.57 461.4,115.49 485.9,118.79 510.4,120.45" fill="none" stroke="#c3c3c3" stroke-width="0.85" stroke-linejoin="round"/>
<polyline points="386.4,119.46 397.9,89.04 409.8,92.35 422.9,100.94 436.9,107.22 461.4,115.49 485.9,119.46 510.4,120.78" fill="none" stroke="#c3c3c3" stroke-width="0.85" stroke-linejoin="round"/>
<polyline points="386.4,112.18 397.9,67.55 409.8,70.86 422.9,84.08 436.9,89.04 485.9,112.18 510.4,114.83" fill="none" stroke="#c3c3c3" stroke-width="0.85" stroke-linejoin="round"/>
<polyline points="386.4,118.13 397.9,72.51 409.8,80.78 422.9,89.04 436.9,95.65 461.4,102.26 485.9,109.54 510.4,116.81" fill="none" stroke="#c3c3c3" stroke-width="0.85" stroke-linejoin="round"/>
<polyline points="386.4,119.12 397.9,77.47 409.8,75.82 422.9,89.7 436.9,90.69 461.4,108.88 485.9,113.5 510.4,118.13" fill="none" stroke="#c3c3c3" stroke-width="0.85" stroke-linejoin="round"/>
<circle cx="386.4" cy="117.14" r="0.9" fill="#c3c3c3"/>
<circle cx="397.9" cy="62.59" r="0.9" fill="#c3c3c3"/>
<circle cx="409.8" cy="60.94" r="0.9" fill="#c3c3c3"/>
<circle cx="422.9" cy="58.96" r="0.9" fill="#c3c3c3"/>
<circle cx="461.4" cy="51.68" r="0.9" fill="#c3c3c3"/>
<circle cx="510.4" cy="116.15" r="0.9" fill="#c3c3c3"/>
<circle cx="386.4" cy="115.49" r="0.9" fill="#c3c3c3"/>
<circle cx="397.9" cy="65.9" r="0.9" fill="#c3c3c3"/>
<circle cx="409.8" cy="72.51" r="0.9" fill="#c3c3c3"/>
<circle cx="422.9" cy="82.43" r="0.9" fill="#c3c3c3"/>
<circle cx="436.9" cy="71.52" r="0.9" fill="#c3c3c3"/>
<circle cx="461.4" cy="98.96" r="0.9" fill="#c3c3c3"/>
<circle cx="485.9" cy="112.18" r="0.9" fill="#c3c3c3"/>
<circle cx="510.4" cy="117.14" r="0.9" fill="#c3c3c3"/>
<circle cx="386.4" cy="118.79" r="0.9" fill="#c3c3c3"/>
<circle cx="397.9" cy="69.2" r="0.9" fill="#c3c3c3"/>
<circle cx="409.8" cy="63.25" r="0.9" fill="#c3c3c3"/>
<circle cx="422.9" cy="85.73" r="0.9" fill="#c3c3c3"/>
<circle cx="436.9" cy="92.35" r="0.9" fill="#c3c3c3"/>
<circle cx="461.4" cy="82.1" r="0.9" fill="#c3c3c3"/>
<circle cx="485.9" cy="108.88" r="0.9" fill="#c3c3c3"/>
<circle cx="510.4" cy="115.49" r="0.9" fill="#c3c3c3"/>
<circle cx="386.4" cy="119.46" r="0.9" fill="#c3c3c3"/>
<circle cx="397.9" cy="70.86" r="0.9" fill="#c3c3c3"/>
<circle cx="409.8" cy="77.47" r="0.9" fill="#c3c3c3"/>
<circle cx="422.9" cy="87.39" r="0.9" fill="#c3c3c3"/>
<circle cx="436.9" cy="89.04" r="0.9" fill="#c3c3c3"/>
<circle cx="461.4" cy="100.61" r="0.9" fill="#c3c3c3"/>
<circle cx="485.9" cy="110.53" r="0.9" fill="#c3c3c3"/>
<circle cx="510.4" cy="118.13" r="0.9" fill="#c3c3c3"/>
<circle cx="386.4" cy="118.13" r="0.9" fill="#c3c3c3"/>
<circle cx="397.9" cy="74.16" r="0.9" fill="#c3c3c3"/>
<circle cx="409.8" cy="69.2" r="0.9" fill="#c3c3c3"/>
<circle cx="422.9" cy="80.78" r="0.9" fill="#c3c3c3"/>
<circle cx="436.9" cy="94" r="0.9" fill="#c3c3c3"/>
<circle cx="461.4" cy="103.92" r="0.9" fill="#c3c3c3"/>
<circle cx="485.9" cy="113.83" r="0.9" fill="#c3c3c3"/>
<circle cx="510.4" cy="118.79" r="0.9" fill="#c3c3c3"/>
<circle cx="386.4" cy="120.12" r="0.9" fill="#c3c3c3"/>
<circle cx="397.9" cy="75.82" r="0.9" fill="#c3c3c3"/>
<circle cx="409.8" cy="82.43" r="0.9" fill="#c3c3c3"/>
<circle cx="422.9" cy="90.69" r="0.9" fill="#c3c3c3"/>
<circle cx="436.9" cy="87.39" r="0.9" fill="#c3c3c3"/>
<circle cx="461.4" cy="105.57" r="0.9" fill="#c3c3c3"/>
<circle cx="485.9" cy="115.49" r="0.9" fill="#c3c3c3"/>
<circle cx="510.4" cy="118.79" r="0.9" fill="#c3c3c3"/>
<circle cx="386.4" cy="118.79" r="0.9" fill="#c3c3c3"/>
<circle cx="397.9" cy="79.12" r="0.9" fill="#c3c3c3"/>
<circle cx="409.8" cy="74.16" r="0.9" fill="#c3c3c3"/>
<circle cx="422.9" cy="92.35" r="0.9" fill="#c3c3c3"/>
<circle cx="436.9" cy="97.3" r="0.9" fill="#c3c3c3"/>
<circle cx="461.4" cy="107.22" r="0.9" fill="#c3c3c3"/>
<circle cx="485.9" cy="115.49" r="0.9" fill="#c3c3c3"/>
<circle cx="510.4" cy="119.46" r="0.9" fill="#c3c3c3"/>
<circle cx="386.4" cy="119.12" r="0.9" fill="#c3c3c3"/>
<circle cx="397.9" cy="80.78" r="0.9" fill="#c3c3c3"/>
<circle cx="409.8" cy="85.73" r="0.9" fill="#c3c3c3"/>
<circle cx="422.9" cy="94" r="0.9" fill="#c3c3c3"/>
<circle cx="436.9" cy="98.96" r="0.9" fill="#c3c3c3"/>
<circle cx="461.4" cy="119.79" r="0.9" fill="#c3c3c3"/>
<circle cx="485.9" cy="116.15" r="0.9" fill="#c3c3c3"/>
<circle cx="510.4" cy="119.46" r="0.9" fill="#c3c3c3"/>
<circle cx="386.4" cy="117.47" r="0.9" fill="#c3c3c3"/>
<circle cx="397.9" cy="82.43" r="0.9" fill="#c3c3c3"/>
<circle cx="409.8" cy="79.12" r="0.9" fill="#c3c3c3"/>
<circle cx="422.9" cy="95.65" r="0.9" fill="#c3c3c3"/>
<circle cx="436.9" cy="100.61" r="0.9" fill="#c3c3c3"/>
<circle cx="461.4" cy="110.53" r="0.9" fill="#c3c3c3"/>
<circle cx="485.9" cy="117.14" r="0.9" fill="#c3c3c3"/>
<circle cx="510.4" cy="119.79" r="0.9" fill="#c3c3c3"/>
<circle cx="386.4" cy="119.79" r="0.9" fill="#c3c3c3"/>
<circle cx="397.9" cy="85.73" r="0.9" fill="#c3c3c3"/>
<circle cx="409.8" cy="89.04" r="0.9" fill="#c3c3c3"/>
<circle cx="422.9" cy="97.3" r="0.9" fill="#c3c3c3"/>
<circle cx="436.9" cy="102.26" r="0.9" fill="#c3c3c3"/>
<circle cx="461.4" cy="112.18" r="0.9" fill="#c3c3c3"/>
<circle cx="485.9" cy="118.13" r="0.9" fill="#c3c3c3"/>
<circle cx="510.4" cy="120.12" r="0.9" fill="#c3c3c3"/>
<circle cx="386.4" cy="118.46" r="0.9" fill="#c3c3c3"/>
<circle cx="397.9" cy="87.39" r="0.9" fill="#c3c3c3"/>
<circle cx="409.8" cy="90.69" r="0.9" fill="#c3c3c3"/>
<circle cx="422.9" cy="98.96" r="0.9" fill="#c3c3c3"/>
<circle cx="436.9" cy="103.92" r="0.9" fill="#c3c3c3"/>
<circle cx="461.4" cy="113.83" r="0.9" fill="#c3c3c3"/>
<circle cx="485.9" cy="118.79" r="0.9" fill="#c3c3c3"/>
<circle cx="510.4" cy="120.12" r="0.9" fill="#c3c3c3"/>
<circle cx="386.4" cy="120.45" r="0.9" fill="#c3c3c3"/>
<circle cx="397.9" cy="84.08" r="0.9" fill="#c3c3c3"/>
<circle cx="409.8" cy="94" r="0.9" fill="#c3c3c3"/>
<circle cx="422.9" cy="100.61" r="0.9" fill="#c3c3c3"/>
<circle cx="436.9" cy="105.57" r="0.9" fill="#c3c3c3"/>
<circle cx="461.4" cy="115.49" r="0.9" fill="#c3c3c3"/>
<circle cx="485.9" cy="118.79" r="0.9" fill="#c3c3c3"/>
<circle cx="510.4" cy="120.45" r="0.9" fill="#c3c3c3"/>
<circle cx="386.4" cy="119.46" r="0.9" fill="#c3c3c3"/>
<circle cx="397.9" cy="89.04" r="0.9" fill="#c3c3c3"/>
<circle cx="409.8" cy="92.35" r="0.9" fill="#c3c3c3"/>
<circle cx="422.9" cy="100.94" r="0.9" fill="#c3c3c3"/>
<circle cx="436.9" cy="107.22" r="0.9" fill="#c3c3c3"/>
<circle cx="461.4" cy="115.49" r="0.9" fill="#c3c3c3"/>
<circle cx="485.9" cy="119.46" r="0.9" fill="#c3c3c3"/>
<circle cx="510.4" cy="120.78" r="0.9" fill="#c3c3c3"/>
<circle cx="386.4" cy="112.18" r="0.9" fill="#c3c3c3"/>
<circle cx="397.9" cy="67.55" r="0.9" fill="#c3c3c3"/>
<circle cx="409.8" cy="70.86" r="0.9" fill="#c3c3c3"/>
<circle cx="422.9" cy="84.08" r="0.9" fill="#c3c3c3"/>
<circle cx="436.9" cy="89.04" r="0.9" fill="#c3c3c3"/>
<circle cx="485.9" cy="112.18" r="0.9" fill="#c3c3c3"/>
<circle cx="510.4" cy="114.83" r="0.9" fill="#c3c3c3"/>
<circle cx="386.4" cy="118.13" r="0.9" fill="#c3c3c3"/>
<circle cx="397.9" cy="72.51" r="0.9" fill="#c3c3c3"/>
<circle cx="409.8" cy="80.78" r="0.9" fill="#c3c3c3"/>
<circle cx="422.9" cy="89.04" r="0.9" fill="#c3c3c3"/>
<circle cx="436.9" cy="95.65" r="0.9" fill="#c3c3c3"/>
<circle cx="461.4" cy="102.26" r="0.9" fill="#c3c3c3"/>
<circle cx="485.9" cy="109.54" r="0.9" fill="#c3c3c3"/>
<circle cx="510.4" cy="116.81" r="0.9" fill="#c3c3c3"/>
<circle cx="386.4" cy="119.12" r="0.9" fill="#c3c3c3"/>
<circle cx="397.9" cy="77.47" r="0.9" fill="#c3c3c3"/>
<circle cx="409.8" cy="75.82" r="0.9" fill="#c3c3c3"/>
<circle cx="422.9" cy="89.7" r="0.9" fill="#c3c3c3"/>
<circle cx="436.9" cy="90.69" r="0.9" fill="#c3c3c3"/>
<circle cx="461.4" cy="108.88" r="0.9" fill="#c3c3c3"/>
<circle cx="485.9" cy="113.5" r="0.9" fill="#c3c3c3"/>
<circle cx="510.4" cy="118.13" r="0.9" fill="#c3c3c3"/>
<polygon points="386.4,117.04 397.9,75.49 409.8,76.48 422.9,90.36 436.9,95.65 461.4,107.39 485.9,113.93 510.4,117.37 510.4,119.36 485.9,116.58 461.4,110.69 436.9,100.28 422.9,95.65 409.8,83.09 397.9,82.1 386.4,119.69" fill="#dfe2f2" />
<polyline points="386.4,118.36 397.9,78.79 409.8,79.78 422.9,93.01 436.9,97.97 461.4,109.04 485.9,115.26 510.4,118.36" fill="none" stroke="#ee9a2a" stroke-width="2.0" stroke-linejoin="round"/>
<circle cx="386.4" cy="118.36" r="2.3" fill="#ee9a2a"/>
<circle cx="397.9" cy="78.79" r="2.3" fill="#ee9a2a"/>
<circle cx="409.8" cy="79.78" r="2.3" fill="#ee9a2a"/>
<circle cx="422.9" cy="93.01" r="2.3" fill="#ee9a2a"/>
<circle cx="436.9" cy="97.97" r="2.3" fill="#ee9a2a"/>
<circle cx="461.4" cy="109.04" r="2.3" fill="#ee9a2a"/>
<circle cx="485.9" cy="115.26" r="2.3" fill="#ee9a2a"/>
<circle cx="510.4" cy="118.36" r="2.3" fill="#ee9a2a"/>
</g>
<g stroke="#1e1e1e" stroke-width="1.25" fill="none">
<line x1="386.4" y1="36.85" x2="386.4" y2="125.1"/>
<line x1="383.4" y1="122.1" x2="386.4" y2="122.1"/>
<line x1="383.4" y1="105.57" x2="386.4" y2="105.57"/>
<line x1="383.4" y1="89.04" x2="386.4" y2="89.04"/>
<line x1="383.4" y1="72.51" x2="386.4" y2="72.51"/>
<line x1="383.4" y1="55.98" x2="386.4" y2="55.98"/>
<line x1="383.4" y1="39.45" x2="386.4" y2="39.45"/>
<line x1="386.4" y1="122.1" x2="415.7" y2="122.1"/>
<line x1="415.7" y1="120.5" x2="415.7" y2="123.7"/>
<line x1="397.9" y1="122.1" x2="397.9" y2="125.1"/>
<line x1="409.8" y1="122.1" x2="409.8" y2="125.1"/>
<line x1="422.9" y1="122.1" x2="513.2" y2="122.1"/>
<line x1="422.9" y1="120.5" x2="422.9" y2="123.9"/>
<line x1="440.4" y1="122.1" x2="440.4" y2="125.1"/>
<line x1="457.9" y1="122.1" x2="457.9" y2="125.1"/>
<line x1="475.4" y1="122.1" x2="475.4" y2="125.1"/>
<line x1="492.9" y1="122.1" x2="492.9" y2="125.1"/>
<line x1="510.4" y1="122.1" x2="510.4" y2="125.1"/>
</g>
<g fill="#2e2e2e" stroke="#2e2e2e" stroke-width="0.12">
<text x="380.5" y="124.55" font-size="9.0" text-anchor="end" textLength="4.39" lengthAdjust="spacingAndGlyphs">0</text>
<text x="380.5" y="108.02" font-size="9.0" text-anchor="end" textLength="4.39" lengthAdjust="spacingAndGlyphs">5</text>
<text x="380.5" y="91.49" font-size="9.0" text-anchor="end" textLength="8.79" lengthAdjust="spacingAndGlyphs">10</text>
<text x="380.5" y="74.96" font-size="9.0" text-anchor="end" textLength="8.79" lengthAdjust="spacingAndGlyphs">15</text>
<text x="380.5" y="58.43" font-size="9.0" text-anchor="end" textLength="8.79" lengthAdjust="spacingAndGlyphs">20</text>
<text x="380.5" y="41.9" font-size="9.0" text-anchor="end" textLength="8.79" lengthAdjust="spacingAndGlyphs">25</text>
<text x="386.4" y="135" font-size="9.0" text-anchor="middle" textLength="11.52" lengthAdjust="spacingAndGlyphs">Pre</text>
<text x="397.9" y="135" font-size="9.0" text-anchor="middle" textLength="4.12" lengthAdjust="spacingAndGlyphs">1</text>
<text x="409.8" y="135" font-size="9.0" text-anchor="middle" textLength="4.12" lengthAdjust="spacingAndGlyphs">2</text>
<text x="422.9" y="135" font-size="9.0" text-anchor="middle" textLength="4.12" lengthAdjust="spacingAndGlyphs">3</text>
<text x="440.4" y="135" font-size="9.0" text-anchor="middle" textLength="4.12" lengthAdjust="spacingAndGlyphs">8</text>
<text x="457.9" y="135" font-size="9.0" text-anchor="middle" textLength="8.23" lengthAdjust="spacingAndGlyphs">13</text>
<text x="475.4" y="135" font-size="9.0" text-anchor="middle" textLength="8.23" lengthAdjust="spacingAndGlyphs">18</text>
<text x="492.9" y="135" font-size="9.0" text-anchor="middle" textLength="8.23" lengthAdjust="spacingAndGlyphs">23</text>
<text x="510.4" y="135" font-size="9.0" text-anchor="middle" textLength="8.23" lengthAdjust="spacingAndGlyphs">28</text>
<text x="401.45" y="148" font-size="10.0" text-anchor="middle" textLength="19.47" lengthAdjust="spacingAndGlyphs">Hours</text>
<text x="467.95" y="148" font-size="10.0" text-anchor="middle" textLength="15.04" lengthAdjust="spacingAndGlyphs">Days</text>
</g>
<text transform="translate(363.4,78.8) rotate(-90)" font-size="8.8" fill="#2e2e2e" text-anchor="middle" textLength="23.3" lengthAdjust="spacingAndGlyphs">µg/mL</text>
<text x="408" y="30.4" font-size="9.7" fill="#222" stroke="#222" stroke-width="0.1" textLength="82.4" lengthAdjust="spacingAndGlyphs">FXIII-A<tspan font-size="7.6" dy="2.0">2</tspan><tspan dy="-2.0">B</tspan><tspan font-size="7.6" dy="2.0">2</tspan><tspan dy="-2.0"> tetramer</tspan></text>
<clipPath id="hD"><rect x="117.5" y="179.1" width="35.3" height="105.4"/></clipPath>
<clipPath id="dD"><rect x="159.8" y="179.1" width="95.5" height="105.4"/></clipPath>
<g clip-path="url(#hD)">
<polyline points="123.5,254.31 135,267.49 146.9,264.2 160,241.54 174,246.48 198.5,255.54 223,258.84 247.5,260.08" fill="none" stroke="#c3c3c3" stroke-width="0.85" stroke-linejoin="round"/>
<polyline points="123.5,257.6 135,271.2 146.9,267.08 160,254.72 174,256.78 198.5,258.84 223,256.78 247.5,253.48" fill="none" stroke="#c3c3c3" stroke-width="0.85" stroke-linejoin="round"/>
<polyline points="123.5,260.08 135,273.26 146.9,271.2 160,258.84 174,258.84 198.5,260.9 223,260.08 247.5,256.78" fill="none" stroke="#c3c3c3" stroke-width="0.85" stroke-linejoin="round"/>
<polyline points="123.5,261.72 135,275.32 146.9,273.26 160,260.9 174,260.08 198.5,261.72 223,262.96 247.5,258.84" fill="none" stroke="#c3c3c3" stroke-width="0.85" stroke-linejoin="round"/>
<polyline points="123.5,262.96 135,276.56 146.9,275.32 160,262.96 174,261.72 198.5,262.96 223,264.2 247.5,261.72" fill="none" stroke="#c3c3c3" stroke-width="0.85" stroke-linejoin="round"/>
<polyline points="123.5,265.02 135,277.38 146.9,276.56 160,264.2 174,262.96 198.5,274.29 223,265.02 247.5,262.96" fill="none" stroke="#c3c3c3" stroke-width="0.85" stroke-linejoin="round"/>
<polyline points="123.5,265.84 135,278.2 146.9,277.38 160,265.02 174,264.2 198.5,264.2 223,272.85 247.5,264.2" fill="none" stroke="#c3c3c3" stroke-width="0.85" stroke-linejoin="round"/>
<polyline points="123.5,267.08 135,279.03 146.9,278.2 160,267.08 174,265.84 198.5,265.02 223,267.08 247.5,265.84" fill="none" stroke="#c3c3c3" stroke-width="0.85" stroke-linejoin="round"/>
<polyline points="123.5,267.9 135,278.62 146.9,277.79 160,269.14 174,269.14 198.5,267.08 223,269.14 247.5,270.38" fill="none" stroke="#c3c3c3" stroke-width="0.85" stroke-linejoin="round"/>
<polyline points="123.5,260.9 135,274.08 146.9,272.44 160,256.78 174,255.96 198.5,256.78 223,260.9 247.5,265.02" fill="none" stroke="#c3c3c3" stroke-width="0.85" stroke-linejoin="round"/>
<polyline points="123.5,258.84 135,275.73 146.9,274.08 160,260.08 174,257.6 198.5,260.08 223,258.43 247.5,260.9" fill="none" stroke="#c3c3c3" stroke-width="0.85" stroke-linejoin="round"/>
<polyline points="123.5,264.2 135,276.97 146.9,275.73 160,265.84 174,265.02 198.5,269.14 223,263.37 247.5,267.08" fill="none" stroke="#c3c3c3" stroke-width="0.85" stroke-linejoin="round"/>
<circle cx="123.5" cy="254.31" r="0.9" fill="#c3c3c3"/>
<circle cx="135" cy="267.49" r="0.9" fill="#c3c3c3"/>
<circle cx="146.9" cy="264.2" r="0.9" fill="#c3c3c3"/>
<circle cx="160" cy="241.54" r="0.9" fill="#c3c3c3"/>
<circle cx="174" cy="246.48" r="0.9" fill="#c3c3c3"/>
<circle cx="198.5" cy="255.54" r="0.9" fill="#c3c3c3"/>
<circle cx="223" cy="258.84" r="0.9" fill="#c3c3c3"/>
<circle cx="247.5" cy="260.08" r="0.9" fill="#c3c3c3"/>
<circle cx="123.5" cy="257.6" r="0.9" fill="#c3c3c3"/>
<circle cx="135" cy="271.2" r="0.9" fill="#c3c3c3"/>
<circle cx="146.9" cy="267.08" r="0.9" fill="#c3c3c3"/>
<circle cx="160" cy="254.72" r="0.9" fill="#c3c3c3"/>
<circle cx="174" cy="256.78" r="0.9" fill="#c3c3c3"/>
<circle cx="198.5" cy="258.84" r="0.9" fill="#c3c3c3"/>
<circle cx="223" cy="256.78" r="0.9" fill="#c3c3c3"/>
<circle cx="247.5" cy="253.48" r="0.9" fill="#c3c3c3"/>
<circle cx="123.5" cy="260.08" r="0.9" fill="#c3c3c3"/>
<circle cx="135" cy="273.26" r="0.9" fill="#c3c3c3"/>
<circle cx="146.9" cy="271.2" r="0.9" fill="#c3c3c3"/>
<circle cx="160" cy="258.84" r="0.9" fill="#c3c3c3"/>
<circle cx="174" cy="258.84" r="0.9" fill="#c3c3c3"/>
<circle cx="198.5" cy="260.9" r="0.9" fill="#c3c3c3"/>
<circle cx="223" cy="260.08" r="0.9" fill="#c3c3c3"/>
<circle cx="247.5" cy="256.78" r="0.9" fill="#c3c3c3"/>
<circle cx="123.5" cy="261.72" r="0.9" fill="#c3c3c3"/>
<circle cx="135" cy="275.32" r="0.9" fill="#c3c3c3"/>
<circle cx="146.9" cy="273.26" r="0.9" fill="#c3c3c3"/>
<circle cx="160" cy="260.9" r="0.9" fill="#c3c3c3"/>
<circle cx="174" cy="260.08" r="0.9" fill="#c3c3c3"/>
<circle cx="198.5" cy="261.72" r="0.9" fill="#c3c3c3"/>
<circle cx="223" cy="262.96" r="0.9" fill="#c3c3c3"/>
<circle cx="247.5" cy="258.84" r="0.9" fill="#c3c3c3"/>
<circle cx="123.5" cy="262.96" r="0.9" fill="#c3c3c3"/>
<circle cx="135" cy="276.56" r="0.9" fill="#c3c3c3"/>
<circle cx="146.9" cy="275.32" r="0.9" fill="#c3c3c3"/>
<circle cx="160" cy="262.96" r="0.9" fill="#c3c3c3"/>
<circle cx="174" cy="261.72" r="0.9" fill="#c3c3c3"/>
<circle cx="198.5" cy="262.96" r="0.9" fill="#c3c3c3"/>
<circle cx="223" cy="264.2" r="0.9" fill="#c3c3c3"/>
<circle cx="247.5" cy="261.72" r="0.9" fill="#c3c3c3"/>
<circle cx="123.5" cy="265.02" r="0.9" fill="#c3c3c3"/>
<circle cx="135" cy="277.38" r="0.9" fill="#c3c3c3"/>
<circle cx="146.9" cy="276.56" r="0.9" fill="#c3c3c3"/>
<circle cx="160" cy="264.2" r="0.9" fill="#c3c3c3"/>
<circle cx="174" cy="262.96" r="0.9" fill="#c3c3c3"/>
<circle cx="198.5" cy="274.29" r="0.9" fill="#c3c3c3"/>
<circle cx="223" cy="265.02" r="0.9" fill="#c3c3c3"/>
<circle cx="247.5" cy="262.96" r="0.9" fill="#c3c3c3"/>
<circle cx="123.5" cy="265.84" r="0.9" fill="#c3c3c3"/>
<circle cx="135" cy="278.2" r="0.9" fill="#c3c3c3"/>
<circle cx="146.9" cy="277.38" r="0.9" fill="#c3c3c3"/>
<circle cx="160" cy="265.02" r="0.9" fill="#c3c3c3"/>
<circle cx="174" cy="264.2" r="0.9" fill="#c3c3c3"/>
<circle cx="198.5" cy="264.2" r="0.9" fill="#c3c3c3"/>
<circle cx="223" cy="272.85" r="0.9" fill="#c3c3c3"/>
<circle cx="247.5" cy="264.2" r="0.9" fill="#c3c3c3"/>
<circle cx="123.5" cy="267.08" r="0.9" fill="#c3c3c3"/>
<circle cx="135" cy="279.03" r="0.9" fill="#c3c3c3"/>
<circle cx="146.9" cy="278.2" r="0.9" fill="#c3c3c3"/>
<circle cx="160" cy="267.08" r="0.9" fill="#c3c3c3"/>
<circle cx="174" cy="265.84" r="0.9" fill="#c3c3c3"/>
<circle cx="198.5" cy="265.02" r="0.9" fill="#c3c3c3"/>
<circle cx="223" cy="267.08" r="0.9" fill="#c3c3c3"/>
<circle cx="247.5" cy="265.84" r="0.9" fill="#c3c3c3"/>
<circle cx="123.5" cy="267.9" r="0.9" fill="#c3c3c3"/>
<circle cx="135" cy="278.62" r="0.9" fill="#c3c3c3"/>
<circle cx="146.9" cy="277.79" r="0.9" fill="#c3c3c3"/>
<circle cx="160" cy="269.14" r="0.9" fill="#c3c3c3"/>
<circle cx="174" cy="269.14" r="0.9" fill="#c3c3c3"/>
<circle cx="198.5" cy="267.08" r="0.9" fill="#c3c3c3"/>
<circle cx="223" cy="269.14" r="0.9" fill="#c3c3c3"/>
<circle cx="247.5" cy="270.38" r="0.9" fill="#c3c3c3"/>
<circle cx="123.5" cy="260.9" r="0.9" fill="#c3c3c3"/>
<circle cx="135" cy="274.08" r="0.9" fill="#c3c3c3"/>
<circle cx="146.9" cy="272.44" r="0.9" fill="#c3c3c3"/>
<circle cx="160" cy="256.78" r="0.9" fill="#c3c3c3"/>
<circle cx="174" cy="255.96" r="0.9" fill="#c3c3c3"/>
<circle cx="198.5" cy="256.78" r="0.9" fill="#c3c3c3"/>
<circle cx="223" cy="260.9" r="0.9" fill="#c3c3c3"/>
<circle cx="247.5" cy="265.02" r="0.9" fill="#c3c3c3"/>
<circle cx="123.5" cy="258.84" r="0.9" fill="#c3c3c3"/>
<circle cx="135" cy="275.73" r="0.9" fill="#c3c3c3"/>
<circle cx="146.9" cy="274.08" r="0.9" fill="#c3c3c3"/>
<circle cx="160" cy="260.08" r="0.9" fill="#c3c3c3"/>
<circle cx="174" cy="257.6" r="0.9" fill="#c3c3c3"/>
<circle cx="198.5" cy="260.08" r="0.9" fill="#c3c3c3"/>
<circle cx="223" cy="258.43" r="0.9" fill="#c3c3c3"/>
<circle cx="247.5" cy="260.9" r="0.9" fill="#c3c3c3"/>
<circle cx="123.5" cy="264.2" r="0.9" fill="#c3c3c3"/>
<circle cx="135" cy="276.97" r="0.9" fill="#c3c3c3"/>
<circle cx="146.9" cy="275.73" r="0.9" fill="#c3c3c3"/>
<circle cx="160" cy="265.84" r="0.9" fill="#c3c3c3"/>
<circle cx="174" cy="265.02" r="0.9" fill="#c3c3c3"/>
<circle cx="198.5" cy="269.14" r="0.9" fill="#c3c3c3"/>
<circle cx="223" cy="263.37" r="0.9" fill="#c3c3c3"/>
<circle cx="247.5" cy="267.08" r="0.9" fill="#c3c3c3"/>
<polygon points="123.5,258.02 135,273.71 146.9,272.44 160,258.43 174,256.86 198.5,259.38 223,259.38 247.5,259.25 247.5,265.84 223,265.97 198.5,265.97 174,264.28 160,265.84 146.9,279.85 135,281.13 123.5,266.26" fill="#e6d6ec" />
<polyline points="123.5,262.14 135,277.42 146.9,276.14 160,262.14 174,260.57 198.5,262.67 223,262.67 247.5,262.55" fill="none" stroke="#3f1a50" stroke-width="1.8" stroke-linejoin="round"/>
<circle cx="123.5" cy="262.14" r="2.2" fill="#3f1a50"/>
<circle cx="135" cy="277.42" r="2.2" fill="#3f1a50"/>
<circle cx="146.9" cy="276.14" r="2.2" fill="#3f1a50"/>
<circle cx="160" cy="262.14" r="2.2" fill="#3f1a50"/>
<circle cx="174" cy="260.57" r="2.2" fill="#3f1a50"/>
<circle cx="198.5" cy="262.67" r="2.2" fill="#3f1a50"/>
<circle cx="223" cy="262.67" r="2.2" fill="#3f1a50"/>
<circle cx="247.5" cy="262.55" r="2.2" fill="#3f1a50"/>
</g>
<g clip-path="url(#dD)">
<polyline points="123.5,254.31 135,267.49 146.9,264.2 160,241.54 174,246.48 198.5,255.54 223,258.84 247.5,260.08" fill="none" stroke="#c3c3c3" stroke-width="0.85" stroke-linejoin="round"/>
<polyline points="123.5,257.6 135,271.2 146.9,267.08 160,254.72 174,256.78 198.5,258.84 223,256.78 247.5,253.48" fill="none" stroke="#c3c3c3" stroke-width="0.85" stroke-linejoin="round"/>
<polyline points="123.5,260.08 135,273.26 146.9,271.2 160,258.84 174,258.84 198.5,260.9 223,260.08 247.5,256.78" fill="none" stroke="#c3c3c3" stroke-width="0.85" stroke-linejoin="round"/>
<polyline points="123.5,261.72 135,275.32 146.9,273.26 160,260.9 174,260.08 198.5,261.72 223,262.96 247.5,258.84" fill="none" stroke="#c3c3c3" stroke-width="0.85" stroke-linejoin="round"/>
<polyline points="123.5,262.96 135,276.56 146.9,275.32 160,262.96 174,261.72 198.5,262.96 223,264.2 247.5,261.72" fill="none" stroke="#c3c3c3" stroke-width="0.85" stroke-linejoin="round"/>
<polyline points="123.5,265.02 135,277.38 146.9,276.56 160,264.2 174,262.96 198.5,274.29 223,265.02 247.5,262.96" fill="none" stroke="#c3c3c3" stroke-width="0.85" stroke-linejoin="round"/>
<polyline points="123.5,265.84 135,278.2 146.9,277.38 160,265.02 174,264.2 198.5,264.2 223,272.85 247.5,264.2" fill="none" stroke="#c3c3c3" stroke-width="0.85" stroke-linejoin="round"/>
<polyline points="123.5,267.08 135,279.03 146.9,278.2 160,267.08 174,265.84 198.5,265.02 223,267.08 247.5,265.84" fill="none" stroke="#c3c3c3" stroke-width="0.85" stroke-linejoin="round"/>
<polyline points="123.5,267.9 135,278.62 146.9,277.79 160,269.14 174,269.14 198.5,267.08 223,269.14 247.5,270.38" fill="none" stroke="#c3c3c3" stroke-width="0.85" stroke-linejoin="round"/>
<polyline points="123.5,260.9 135,274.08 146.9,272.44 160,256.78 174,255.96 198.5,256.78 223,260.9 247.5,265.02" fill="none" stroke="#c3c3c3" stroke-width="0.85" stroke-linejoin="round"/>
<polyline points="123.5,258.84 135,275.73 146.9,274.08 160,260.08 174,257.6 198.5,260.08 223,258.43 247.5,260.9" fill="none" stroke="#c3c3c3" stroke-width="0.85" stroke-linejoin="round"/>
<polyline points="123.5,264.2 135,276.97 146.9,275.73 160,265.84 174,265.02 198.5,269.14 223,263.37 247.5,267.08" fill="none" stroke="#c3c3c3" stroke-width="0.85" stroke-linejoin="round"/>
<circle cx="123.5" cy="254.31" r="0.9" fill="#c3c3c3"/>
<circle cx="135" cy="267.49" r="0.9" fill="#c3c3c3"/>
<circle cx="146.9" cy="264.2" r="0.9" fill="#c3c3c3"/>
<circle cx="160" cy="241.54" r="0.9" fill="#c3c3c3"/>
<circle cx="174" cy="246.48" r="0.9" fill="#c3c3c3"/>
<circle cx="198.5" cy="255.54" r="0.9" fill="#c3c3c3"/>
<circle cx="223" cy="258.84" r="0.9" fill="#c3c3c3"/>
<circle cx="247.5" cy="260.08" r="0.9" fill="#c3c3c3"/>
<circle cx="123.5" cy="257.6" r="0.9" fill="#c3c3c3"/>
<circle cx="135" cy="271.2" r="0.9" fill="#c3c3c3"/>
<circle cx="146.9" cy="267.08" r="0.9" fill="#c3c3c3"/>
<circle cx="160" cy="254.72" r="0.9" fill="#c3c3c3"/>
<circle cx="174" cy="256.78" r="0.9" fill="#c3c3c3"/>
<circle cx="198.5" cy="258.84" r="0.9" fill="#c3c3c3"/>
<circle cx="223" cy="256.78" r="0.9" fill="#c3c3c3"/>
<circle cx="247.5" cy="253.48" r="0.9" fill="#c3c3c3"/>
<circle cx="123.5" cy="260.08" r="0.9" fill="#c3c3c3"/>
<circle cx="135" cy="273.26" r="0.9" fill="#c3c3c3"/>
<circle cx="146.9" cy="271.2" r="0.9" fill="#c3c3c3"/>
<circle cx="160" cy="258.84" r="0.9" fill="#c3c3c3"/>
<circle cx="174" cy="258.84" r="0.9" fill="#c3c3c3"/>
<circle cx="198.5" cy="260.9" r="0.9" fill="#c3c3c3"/>
<circle cx="223" cy="260.08" r="0.9" fill="#c3c3c3"/>
<circle cx="247.5" cy="256.78" r="0.9" fill="#c3c3c3"/>
<circle cx="123.5" cy="261.72" r="0.9" fill="#c3c3c3"/>
<circle cx="135" cy="275.32" r="0.9" fill="#c3c3c3"/>
<circle cx="146.9" cy="273.26" r="0.9" fill="#c3c3c3"/>
<circle cx="160" cy="260.9" r="0.9" fill="#c3c3c3"/>
<circle cx="174" cy="260.08" r="0.9" fill="#c3c3c3"/>
<circle cx="198.5" cy="261.72" r="0.9" fill="#c3c3c3"/>
<circle cx="223" cy="262.96" r="0.9" fill="#c3c3c3"/>
<circle cx="247.5" cy="258.84" r="0.9" fill="#c3c3c3"/>
<circle cx="123.5" cy="262.96" r="0.9" fill="#c3c3c3"/>
<circle cx="135" cy="276.56" r="0.9" fill="#c3c3c3"/>
<circle cx="146.9" cy="275.32" r="0.9" fill="#c3c3c3"/>
<circle cx="160" cy="262.96" r="0.9" fill="#c3c3c3"/>
<circle cx="174" cy="261.72" r="0.9" fill="#c3c3c3"/>
<circle cx="198.5" cy="262.96" r="0.9" fill="#c3c3c3"/>
<circle cx="223" cy="264.2" r="0.9" fill="#c3c3c3"/>
<circle cx="247.5" cy="261.72" r="0.9" fill="#c3c3c3"/>
<circle cx="123.5" cy="265.02" r="0.9" fill="#c3c3c3"/>
<circle cx="135" cy="277.38" r="0.9" fill="#c3c3c3"/>
<circle cx="146.9" cy="276.56" r="0.9" fill="#c3c3c3"/>
<circle cx="160" cy="264.2" r="0.9" fill="#c3c3c3"/>
<circle cx="174" cy="262.96" r="0.9" fill="#c3c3c3"/>
<circle cx="198.5" cy="274.29" r="0.9" fill="#c3c3c3"/>
<circle cx="223" cy="265.02" r="0.9" fill="#c3c3c3"/>
<circle cx="247.5" cy="262.96" r="0.9" fill="#c3c3c3"/>
<circle cx="123.5" cy="265.84" r="0.9" fill="#c3c3c3"/>
<circle cx="135" cy="278.2" r="0.9" fill="#c3c3c3"/>
<circle cx="146.9" cy="277.38" r="0.9" fill="#c3c3c3"/>
<circle cx="160" cy="265.02" r="0.9" fill="#c3c3c3"/>
<circle cx="174" cy="264.2" r="0.9" fill="#c3c3c3"/>
<circle cx="198.5" cy="264.2" r="0.9" fill="#c3c3c3"/>
<circle cx="223" cy="272.85" r="0.9" fill="#c3c3c3"/>
<circle cx="247.5" cy="264.2" r="0.9" fill="#c3c3c3"/>
<circle cx="123.5" cy="267.08" r="0.9" fill="#c3c3c3"/>
<circle cx="135" cy="279.03" r="0.9" fill="#c3c3c3"/>
<circle cx="146.9" cy="278.2" r="0.9" fill="#c3c3c3"/>
<circle cx="160" cy="267.08" r="0.9" fill="#c3c3c3"/>
<circle cx="174" cy="265.84" r="0.9" fill="#c3c3c3"/>
<circle cx="198.5" cy="265.02" r="0.9" fill="#c3c3c3"/>
<circle cx="223" cy="267.08" r="0.9" fill="#c3c3c3"/>
<circle cx="247.5" cy="265.84" r="0.9" fill="#c3c3c3"/>
<circle cx="123.5" cy="267.9" r="0.9" fill="#c3c3c3"/>
<circle cx="135" cy="278.62" r="0.9" fill="#c3c3c3"/>
<circle cx="146.9" cy="277.79" r="0.9" fill="#c3c3c3"/>
<circle cx="160" cy="269.14" r="0.9" fill="#c3c3c3"/>
<circle cx="174" cy="269.14" r="0.9" fill="#c3c3c3"/>
<circle cx="198.5" cy="267.08" r="0.9" fill="#c3c3c3"/>
<circle cx="223" cy="269.14" r="0.9" fill="#c3c3c3"/>
<circle cx="247.5" cy="270.38" r="0.9" fill="#c3c3c3"/>
<circle cx="123.5" cy="260.9" r="0.9" fill="#c3c3c3"/>
<circle cx="135" cy="274.08" r="0.9" fill="#c3c3c3"/>
<circle cx="146.9" cy="272.44" r="0.9" fill="#c3c3c3"/>
<circle cx="160" cy="256.78" r="0.9" fill="#c3c3c3"/>
<circle cx="174" cy="255.96" r="0.9" fill="#c3c3c3"/>
<circle cx="198.5" cy="256.78" r="0.9" fill="#c3c3c3"/>
<circle cx="223" cy="260.9" r="0.9" fill="#c3c3c3"/>
<circle cx="247.5" cy="265.02" r="0.9" fill="#c3c3c3"/>
<circle cx="123.5" cy="258.84" r="0.9" fill="#c3c3c3"/>
<circle cx="135" cy="275.73" r="0.9" fill="#c3c3c3"/>
<circle cx="146.9" cy="274.08" r="0.9" fill="#c3c3c3"/>
<circle cx="160" cy="260.08" r="0.9" fill="#c3c3c3"/>
<circle cx="174" cy="257.6" r="0.9" fill="#c3c3c3"/>
<circle cx="198.5" cy="260.08" r="0.9" fill="#c3c3c3"/>
<circle cx="223" cy="258.43" r="0.9" fill="#c3c3c3"/>
<circle cx="247.5" cy="260.9" r="0.9" fill="#c3c3c3"/>
<circle cx="123.5" cy="264.2" r="0.9" fill="#c3c3c3"/>
<circle cx="135" cy="276.97" r="0.9" fill="#c3c3c3"/>
<circle cx="146.9" cy="275.73" r="0.9" fill="#c3c3c3"/>
<circle cx="160" cy="265.84" r="0.9" fill="#c3c3c3"/>
<circle cx="174" cy="265.02" r="0.9" fill="#c3c3c3"/>
<circle cx="198.5" cy="269.14" r="0.9" fill="#c3c3c3"/>
<circle cx="223" cy="263.37" r="0.9" fill="#c3c3c3"/>
<circle cx="247.5" cy="267.08" r="0.9" fill="#c3c3c3"/>
<polygon points="123.5,258.02 135,273.71 146.9,272.44 160,258.43 174,256.86 198.5,259.38 223,259.38 247.5,259.25 247.5,265.84 223,265.97 198.5,265.97 174,264.28 160,265.84 146.9,279.85 135,281.13 123.5,266.26" fill="#e6d6ec" />
<polyline points="123.5,262.14 135,277.42 146.9,276.14 160,262.14 174,260.57 198.5,262.67 223,262.67 247.5,262.55" fill="none" stroke="#3f1a50" stroke-width="1.8" stroke-linejoin="round"/>
<circle cx="123.5" cy="262.14" r="2.2" fill="#3f1a50"/>
<circle cx="135" cy="277.42" r="2.2" fill="#3f1a50"/>
<circle cx="146.9" cy="276.14" r="2.2" fill="#3f1a50"/>
<circle cx="160" cy="262.14" r="2.2" fill="#3f1a50"/>
<circle cx="174" cy="260.57" r="2.2" fill="#3f1a50"/>
<circle cx="198.5" cy="262.67" r="2.2" fill="#3f1a50"/>
<circle cx="223" cy="262.67" r="2.2" fill="#3f1a50"/>
<circle cx="247.5" cy="262.55" r="2.2" fill="#3f1a50"/>
</g>
<g stroke="#1e1e1e" stroke-width="1.25" fill="none">
<line x1="123.5" y1="196.5" x2="123.5" y2="284.5"/>
<line x1="120.5" y1="281.5" x2="123.5" y2="281.5"/>
<line x1="120.5" y1="260.9" x2="123.5" y2="260.9"/>
<line x1="120.5" y1="240.3" x2="123.5" y2="240.3"/>
<line x1="120.5" y1="219.7" x2="123.5" y2="219.7"/>
<line x1="120.5" y1="199.1" x2="123.5" y2="199.1"/>
<line x1="123.5" y1="281.5" x2="152.8" y2="281.5"/>
<line x1="152.8" y1="279.9" x2="152.8" y2="283.1"/>
<line x1="135" y1="281.5" x2="135" y2="284.5"/>
<line x1="146.9" y1="281.5" x2="146.9" y2="284.5"/>
<line x1="160" y1="281.5" x2="250.3" y2="281.5"/>
<line x1="160" y1="279.9" x2="160" y2="283.3"/>
<line x1="177.5" y1="281.5" x2="177.5" y2="284.5"/>
<line x1="195" y1="281.5" x2="195" y2="284.5"/>
<line x1="212.5" y1="281.5" x2="212.5" y2="284.5"/>
<line x1="230" y1="281.5" x2="230" y2="284.5"/>
<line x1="247.5" y1="281.5" x2="247.5" y2="284.5"/>
</g>
<g fill="#2e2e2e" stroke="#2e2e2e" stroke-width="0.12">
<text x="117.6" y="283.95" font-size="9.0" text-anchor="end" textLength="4.39" lengthAdjust="spacingAndGlyphs">0</text>
<text x="117.6" y="263.35" font-size="9.0" text-anchor="end" textLength="4.39" lengthAdjust="spacingAndGlyphs">5</text>
<text x="117.6" y="242.75" font-size="9.0" text-anchor="end" textLength="8.79" lengthAdjust="spacingAndGlyphs">10</text>
<text x="117.6" y="222.15" font-size="9.0" text-anchor="end" textLength="8.79" lengthAdjust="spacingAndGlyphs">15</text>
<text x="117.6" y="201.55" font-size="9.0" text-anchor="end" textLength="8.79" lengthAdjust="spacingAndGlyphs">20</text>
<text x="123.5" y="294.8" font-size="9.0" text-anchor="middle" textLength="11.52" lengthAdjust="spacingAndGlyphs">Pre</text>
<text x="135" y="294.8" font-size="9.0" text-anchor="middle" textLength="4.12" lengthAdjust="spacingAndGlyphs">1</text>
<text x="146.9" y="294.8" font-size="9.0" text-anchor="middle" textLength="4.12" lengthAdjust="spacingAndGlyphs">2</text>
<text x="160" y="294.8" font-size="9.0" text-anchor="middle" textLength="4.12" lengthAdjust="spacingAndGlyphs">3</text>
<text x="177.5" y="294.8" font-size="9.0" text-anchor="middle" textLength="4.12" lengthAdjust="spacingAndGlyphs">8</text>
<text x="195" y="294.8" font-size="9.0" text-anchor="middle" textLength="8.23" lengthAdjust="spacingAndGlyphs">13</text>
<text x="212.5" y="294.8" font-size="9.0" text-anchor="middle" textLength="8.23" lengthAdjust="spacingAndGlyphs">18</text>
<text x="230" y="294.8" font-size="9.0" text-anchor="middle" textLength="8.23" lengthAdjust="spacingAndGlyphs">23</text>
<text x="247.5" y="294.8" font-size="9.0" text-anchor="middle" textLength="8.23" lengthAdjust="spacingAndGlyphs">28</text>
<text x="138.55" y="307.8" font-size="10.0" text-anchor="middle" textLength="19.47" lengthAdjust="spacingAndGlyphs">Hours</text>
<text x="205.05" y="307.8" font-size="10.0" text-anchor="middle" textLength="15.04" lengthAdjust="spacingAndGlyphs">Days</text>
</g>
<text transform="translate(103.2,239.8) rotate(-90)" font-size="8.8" fill="#2e2e2e" text-anchor="middle" textLength="23.5" lengthAdjust="spacingAndGlyphs">µg/mL</text>
<text x="144.8" y="189.2" font-size="9.7" fill="#222" stroke="#222" stroke-width="0.1" textLength="84.6" lengthAdjust="spacingAndGlyphs">Free FXIII-B subunit</text>
<clipPath id="hE"><rect x="292.5" y="179.1" width="35.3" height="105.4"/></clipPath>
<clipPath id="dE"><rect x="334.8" y="179.1" width="95.5" height="105.4"/></clipPath>
<g clip-path="url(#hE)">
<polyline points="298.5,256.78 310,235.36 321.9,232.06 335,222.17 349,232.88 373.5,252.66 398,256.78 422.5,258.84" fill="none" stroke="#c3c3c3" stroke-width="0.85" stroke-linejoin="round"/>
<polyline points="298.5,250.19 310,238.24 321.9,234.12 335,230 373.5,211.87 422.5,260.9" fill="none" stroke="#c3c3c3" stroke-width="0.85" stroke-linejoin="round"/>
<polyline points="298.5,258.84 310,242.36 321.9,238.24 335,234.94 349,237.83 373.5,236.59 398,250.6 422.5,251.42" fill="none" stroke="#c3c3c3" stroke-width="0.85" stroke-linejoin="round"/>
<polyline points="298.5,260.9 310,246.48 321.9,244.42 335,239.06 349,242.36 373.5,250.6 398,254.72 422.5,254.72" fill="none" stroke="#c3c3c3" stroke-width="0.85" stroke-linejoin="round"/>
<polyline points="298.5,262.96 310,248.54 321.9,248.54 335,242.36 349,244.42 373.5,252.66 398,256.78 422.5,256.78" fill="none" stroke="#c3c3c3" stroke-width="0.85" stroke-linejoin="round"/>
<polyline points="298.5,265.02 310,252.66 321.9,250.6 335,244.42 349,246.48 373.5,254.72 398,258.84 422.5,258.84" fill="none" stroke="#c3c3c3" stroke-width="0.85" stroke-linejoin="round"/>
<polyline points="298.5,266.26 310,254.72 321.9,254.72 335,246.48 349,248.54 373.5,256.78 398,260.9 422.5,260.9" fill="none" stroke="#c3c3c3" stroke-width="0.85" stroke-linejoin="round"/>
<polyline points="298.5,263.37 310,251.84 321.9,253.07 335,237.83 349,241.12 373.5,251.84 398,255.54 422.5,255.96" fill="none" stroke="#c3c3c3" stroke-width="0.85" stroke-linejoin="round"/>
<polyline points="298.5,258.43 310,246.07 321.9,244.83 335,249.36 349,243.6 373.5,255.13 398,257.19 422.5,261.31" fill="none" stroke="#c3c3c3" stroke-width="0.85" stroke-linejoin="round"/>
<polyline points="298.5,260.08 310,256.78 321.9,259.25 335,248.54 349,250.6 373.5,272.85 398,260.9 422.5,262.96" fill="none" stroke="#c3c3c3" stroke-width="0.85" stroke-linejoin="round"/>
<polyline points="298.5,261.72 310,250.6 321.9,252.66 335,252.66 349,256.78 373.5,260.9 398,271.61 422.5,264.61" fill="none" stroke="#c3c3c3" stroke-width="0.85" stroke-linejoin="round"/>
<polyline points="298.5,254.72 310,244.42 321.9,246.48 335,256.78 349,260.9 373.5,262.96 398,262.96 422.5,262.96" fill="none" stroke="#c3c3c3" stroke-width="0.85" stroke-linejoin="round"/>
<polyline points="298.5,264.2 310,249.36 321.9,249.36 335,232.06 349,236.18 373.5,244.42 398,252.66 422.5,256.78" fill="none" stroke="#c3c3c3" stroke-width="0.85" stroke-linejoin="round"/>
<polyline points="298.5,257.6 310,237 321.9,242.36 335,237 349,239.48 373.5,248.54 398,255.96 422.5,257.6" fill="none" stroke="#c3c3c3" stroke-width="0.85" stroke-linejoin="round"/>
<polyline points="298.5,262.55 310,245.24 321.9,239.48 335,241.12 349,243.6 373.5,249.36 398,260.08 422.5,261.72" fill="none" stroke="#c3c3c3" stroke-width="0.85" stroke-linejoin="round"/>
<polyline points="298.5,265.43 310,253.48 321.9,242.36 335,245.24 349,251.84 373.5,258.84 398,261.72 422.5,260.08" fill="none" stroke="#c3c3c3" stroke-width="0.85" stroke-linejoin="round"/>
<polyline points="298.5,259.25 310,241.12 321.9,230 335,250.19 349,253.48 373.5,255.96 398,257.6 422.5,253.48" fill="none" stroke="#c3c3c3" stroke-width="0.85" stroke-linejoin="round"/>
<polyline points="298.5,253.48 310,247.72 321.9,255.96 335,240.3 349,235.36 373.5,246.48 398,254.31 422.5,258.43" fill="none" stroke="#c3c3c3" stroke-width="0.85" stroke-linejoin="round"/>
<circle cx="298.5" cy="256.78" r="0.9" fill="#c3c3c3"/>
<circle cx="310" cy="235.36" r="0.9" fill="#c3c3c3"/>
<circle cx="321.9" cy="232.06" r="0.9" fill="#c3c3c3"/>
<circle cx="335" cy="222.17" r="0.9" fill="#c3c3c3"/>
<circle cx="349" cy="232.88" r="0.9" fill="#c3c3c3"/>
<circle cx="373.5" cy="252.66" r="0.9" fill="#c3c3c3"/>
<circle cx="398" cy="256.78" r="0.9" fill="#c3c3c3"/>
<circle cx="422.5" cy="258.84" r="0.9" fill="#c3c3c3"/>
<circle cx="298.5" cy="250.19" r="0.9" fill="#c3c3c3"/>
<circle cx="310" cy="238.24" r="0.9" fill="#c3c3c3"/>
<circle cx="321.9" cy="234.12" r="0.9" fill="#c3c3c3"/>
<circle cx="335" cy="230" r="0.9" fill="#c3c3c3"/>
<circle cx="373.5" cy="211.87" r="0.9" fill="#c3c3c3"/>
<circle cx="422.5" cy="260.9" r="0.9" fill="#c3c3c3"/>
<circle cx="298.5" cy="258.84" r="0.9" fill="#c3c3c3"/>
<circle cx="310" cy="242.36" r="0.9" fill="#c3c3c3"/>
<circle cx="321.9" cy="238.24" r="0.9" fill="#c3c3c3"/>
<circle cx="335" cy="234.94" r="0.9" fill="#c3c3c3"/>
<circle cx="349" cy="237.83" r="0.9" fill="#c3c3c3"/>
<circle cx="373.5" cy="236.59" r="0.9" fill="#c3c3c3"/>
<circle cx="398" cy="250.6" r="0.9" fill="#c3c3c3"/>
<circle cx="422.5" cy="251.42" r="0.9" fill="#c3c3c3"/>
<circle cx="298.5" cy="260.9" r="0.9" fill="#c3c3c3"/>
<circle cx="310" cy="246.48" r="0.9" fill="#c3c3c3"/>
<circle cx="321.9" cy="244.42" r="0.9" fill="#c3c3c3"/>
<circle cx="335" cy="239.06" r="0.9" fill="#c3c3c3"/>
<circle cx="349" cy="242.36" r="0.9" fill="#c3c3c3"/>
<circle cx="373.5" cy="250.6" r="0.9" fill="#c3c3c3"/>
<circle cx="398" cy="254.72" r="0.9" fill="#c3c3c3"/>
<circle cx="422.5" cy="254.72" r="0.9" fill="#c3c3c3"/>
<circle cx="298.5" cy="262.96" r="0.9" fill="#c3c3c3"/>
<circle cx="310" cy="248.54" r="0.9" fill="#c3c3c3"/>
<circle cx="321.9" cy="248.54" r="0.9" fill="#c3c3c3"/>
<circle cx="335" cy="242.36" r="0.9" fill="#c3c3c3"/>
<circle cx="349" cy="244.42" r="0.9" fill="#c3c3c3"/>
<circle cx="373.5" cy="252.66" r="0.9" fill="#c3c3c3"/>
<circle cx="398" cy="256.78" r="0.9" fill="#c3c3c3"/>
<circle cx="422.5" cy="256.78" r="0.9" fill="#c3c3c3"/>
<circle cx="298.5" cy="265.02" r="0.9" fill="#c3c3c3"/>
<circle cx="310" cy="252.66" r="0.9" fill="#c3c3c3"/>
<circle cx="321.9" cy="250.6" r="0.9" fill="#c3c3c3"/>
<circle cx="335" cy="244.42" r="0.9" fill="#c3c3c3"/>
<circle cx="349" cy="246.48" r="0.9" fill="#c3c3c3"/>
<circle cx="373.5" cy="254.72" r="0.9" fill="#c3c3c3"/>
<circle cx="398" cy="258.84" r="0.9" fill="#c3c3c3"/>
<circle cx="422.5" cy="258.84" r="0.9" fill="#c3c3c3"/>
<circle cx="298.5" cy="266.26" r="0.9" fill="#c3c3c3"/>
<circle cx="310" cy="254.72" r="0.9" fill="#c3c3c3"/>
<circle cx="321.9" cy="254.72" r="0.9" fill="#c3c3c3"/>
<circle cx="335" cy="246.48" r="0.9" fill="#c3c3c3"/>
<circle cx="349" cy="248.54" r="0.9" fill="#c3c3c3"/>
<circle cx="373.5" cy="256.78" r="0.9" fill="#c3c3c3"/>
<circle cx="398" cy="260.9" r="0.9" fill="#c3c3c3"/>
<circle cx="422.5" cy="260.9" r="0.9" fill="#c3c3c3"/>
<circle cx="298.5" cy="263.37" r="0.9" fill="#c3c3c3"/>
<circle cx="310" cy="251.84" r="0.9" fill="#c3c3c3"/>
<circle cx="321.9" cy="253.07" r="0.9" fill="#c3c3c3"/>
<circle cx="335" cy="237.83" r="0.9" fill="#c3c3c3"/>
<circle cx="349" cy="241.12" r="0.9" fill="#c3c3c3"/>
<circle cx="373.5" cy="251.84" r="0.9" fill="#c3c3c3"/>
<circle cx="398" cy="255.54" r="0.9" fill="#c3c3c3"/>
<circle cx="422.5" cy="255.96" r="0.9" fill="#c3c3c3"/>
<circle cx="298.5" cy="258.43" r="0.9" fill="#c3c3c3"/>
<circle cx="310" cy="246.07" r="0.9" fill="#c3c3c3"/>
<circle cx="321.9" cy="244.83" r="0.9" fill="#c3c3c3"/>
<circle cx="335" cy="249.36" r="0.9" fill="#c3c3c3"/>
<circle cx="349" cy="243.6" r="0.9" fill="#c3c3c3"/>
<circle cx="373.5" cy="255.13" r="0.9" fill="#c3c3c3"/>
<circle cx="398" cy="257.19" r="0.9" fill="#c3c3c3"/>
<circle cx="422.5" cy="261.31" r="0.9" fill="#c3c3c3"/>
<circle cx="298.5" cy="260.08" r="0.9" fill="#c3c3c3"/>
<circle cx="310" cy="256.78" r="0.9" fill="#c3c3c3"/>
<circle cx="321.9" cy="259.25" r="0.9" fill="#c3c3c3"/>
<circle cx="335" cy="248.54" r="0.9" fill="#c3c3c3"/>
<circle cx="349" cy="250.6" r="0.9" fill="#c3c3c3"/>
<circle cx="373.5" cy="272.85" r="0.9" fill="#c3c3c3"/>
<circle cx="398" cy="260.9" r="0.9" fill="#c3c3c3"/>
<circle cx="422.5" cy="262.96" r="0.9" fill="#c3c3c3"/>
<circle cx="298.5" cy="261.72" r="0.9" fill="#c3c3c3"/>
<circle cx="310" cy="250.6" r="0.9" fill="#c3c3c3"/>
<circle cx="321.9" cy="252.66" r="0.9" fill="#c3c3c3"/>
<circle cx="335" cy="252.66" r="0.9" fill="#c3c3c3"/>
<circle cx="349" cy="256.78" r="0.9" fill="#c3c3c3"/>
<circle cx="373.5" cy="260.9" r="0.9" fill="#c3c3c3"/>
<circle cx="398" cy="271.61" r="0.9" fill="#c3c3c3"/>
<circle cx="422.5" cy="264.61" r="0.9" fill="#c3c3c3"/>
<circle cx="298.5" cy="254.72" r="0.9" fill="#c3c3c3"/>
<circle cx="310" cy="244.42" r="0.9" fill="#c3c3c3"/>
<circle cx="321.9" cy="246.48" r="0.9" fill="#c3c3c3"/>
<circle cx="335" cy="256.78" r="0.9" fill="#c3c3c3"/>
<circle cx="349" cy="260.9" r="0.9" fill="#c3c3c3"/>
<circle cx="373.5" cy="262.96" r="0.9" fill="#c3c3c3"/>
<circle cx="398" cy="262.96" r="0.9" fill="#c3c3c3"/>
<circle cx="422.5" cy="262.96" r="0.9" fill="#c3c3c3"/>
<circle cx="298.5" cy="264.2" r="0.9" fill="#c3c3c3"/>
<circle cx="310" cy="249.36" r="0.9" fill="#c3c3c3"/>
<circle cx="321.9" cy="249.36" r="0.9" fill="#c3c3c3"/>
<circle cx="335" cy="232.06" r="0.9" fill="#c3c3c3"/>
<circle cx="349" cy="236.18" r="0.9" fill="#c3c3c3"/>
<circle cx="373.5" cy="244.42" r="0.9" fill="#c3c3c3"/>
<circle cx="398" cy="252.66" r="0.9" fill="#c3c3c3"/>
<circle cx="422.5" cy="256.78" r="0.9" fill="#c3c3c3"/>
<circle cx="298.5" cy="257.6" r="0.9" fill="#c3c3c3"/>
<circle cx="310" cy="237" r="0.9" fill="#c3c3c3"/>
<circle cx="321.9" cy="242.36" r="0.9" fill="#c3c3c3"/>
<circle cx="335" cy="237" r="0.9" fill="#c3c3c3"/>
<circle cx="349" cy="239.48" r="0.9" fill="#c3c3c3"/>
<circle cx="373.5" cy="248.54" r="0.9" fill="#c3c3c3"/>
<circle cx="398" cy="255.96" r="0.9" fill="#c3c3c3"/>
<circle cx="422.5" cy="257.6" r="0.9" fill="#c3c3c3"/>
<circle cx="298.5" cy="262.55" r="0.9" fill="#c3c3c3"/>
<circle cx="310" cy="245.24" r="0.9" fill="#c3c3c3"/>
<circle cx="321.9" cy="239.48" r="0.9" fill="#c3c3c3"/>
<circle cx="335" cy="241.12" r="0.9" fill="#c3c3c3"/>
<circle cx="349" cy="243.6" r="0.9" fill="#c3c3c3"/>
<circle cx="373.5" cy="249.36" r="0.9" fill="#c3c3c3"/>
<circle cx="398" cy="260.08" r="0.9" fill="#c3c3c3"/>
<circle cx="422.5" cy="261.72" r="0.9" fill="#c3c3c3"/>
<circle cx="298.5" cy="265.43" r="0.9" fill="#c3c3c3"/>
<circle cx="310" cy="253.48" r="0.9" fill="#c3c3c3"/>
<circle cx="321.9" cy="242.36" r="0.9" fill="#c3c3c3"/>
<circle cx="335" cy="245.24" r="0.9" fill="#c3c3c3"/>
<circle cx="349" cy="251.84" r="0.9" fill="#c3c3c3"/>
<circle cx="373.5" cy="258.84" r="0.9" fill="#c3c3c3"/>
<circle cx="398" cy="261.72" r="0.9" fill="#c3c3c3"/>
<circle cx="422.5" cy="260.08" r="0.9" fill="#c3c3c3"/>
<circle cx="298.5" cy="259.25" r="0.9" fill="#c3c3c3"/>
<circle cx="310" cy="241.12" r="0.9" fill="#c3c3c3"/>
<circle cx="321.9" cy="230" r="0.9" fill="#c3c3c3"/>
<circle cx="335" cy="250.19" r="0.9" fill="#c3c3c3"/>
<circle cx="349" cy="253.48" r="0.9" fill="#c3c3c3"/>
<circle cx="373.5" cy="255.96" r="0.9" fill="#c3c3c3"/>
<circle cx="398" cy="257.6" r="0.9" fill="#c3c3c3"/>
<circle cx="422.5" cy="253.48" r="0.9" fill="#c3c3c3"/>
<circle cx="298.5" cy="253.48" r="0.9" fill="#c3c3c3"/>
<circle cx="310" cy="247.72" r="0.9" fill="#c3c3c3"/>
<circle cx="321.9" cy="255.96" r="0.9" fill="#c3c3c3"/>
<circle cx="335" cy="240.3" r="0.9" fill="#c3c3c3"/>
<circle cx="349" cy="235.36" r="0.9" fill="#c3c3c3"/>
<circle cx="373.5" cy="246.48" r="0.9" fill="#c3c3c3"/>
<circle cx="398" cy="254.31" r="0.9" fill="#c3c3c3"/>
<circle cx="422.5" cy="258.43" r="0.9" fill="#c3c3c3"/>
<polygon points="298.5,257.69 310,247.22 321.9,246.6 335,240.34 349,242.44 373.5,250.31 398,255.3 422.5,257.19 422.5,262.14 398,260.24 373.5,256.08 349,249.03 335,246.93 321.9,253.2 310,253.81 298.5,263.45" fill="#e2e2f2" />
<polyline points="298.5,260.57 310,250.52 321.9,249.9 335,243.64 349,245.74 373.5,253.2 398,257.77 422.5,259.66" fill="none" stroke="#8383c4" stroke-width="1.6" stroke-linejoin="round"/>
<circle cx="298.5" cy="260.57" r="2.2" fill="#8383c4"/>
<circle cx="310" cy="250.52" r="2.2" fill="#8383c4"/>
<circle cx="321.9" cy="249.9" r="2.2" fill="#8383c4"/>
<circle cx="335" cy="243.64" r="2.2" fill="#8383c4"/>
<circle cx="349" cy="245.74" r="2.2" fill="#8383c4"/>
<circle cx="373.5" cy="253.2" r="2.2" fill="#8383c4"/>
<circle cx="398" cy="257.77" r="2.2" fill="#8383c4"/>
<circle cx="422.5" cy="259.66" r="2.2" fill="#8383c4"/>
</g>
<g clip-path="url(#dE)">
<polyline points="298.5,256.78 310,235.36 321.9,232.06 335,222.17 349,232.88 373.5,252.66 398,256.78 422.5,258.84" fill="none" stroke="#c3c3c3" stroke-width="0.85" stroke-linejoin="round"/>
<polyline points="298.5,250.19 310,238.24 321.9,234.12 335,230 373.5,211.87 422.5,260.9" fill="none" stroke="#c3c3c3" stroke-width="0.85" stroke-linejoin="round"/>
<polyline points="298.5,258.84 310,242.36 321.9,238.24 335,234.94 349,237.83 373.5,236.59 398,250.6 422.5,251.42" fill="none" stroke="#c3c3c3" stroke-width="0.85" stroke-linejoin="round"/>
<polyline points="298.5,260.9 310,246.48 321.9,244.42 335,239.06 349,242.36 373.5,250.6 398,254.72 422.5,254.72" fill="none" stroke="#c3c3c3" stroke-width="0.85" stroke-linejoin="round"/>
<polyline points="298.5,262.96 310,248.54 321.9,248.54 335,242.36 349,244.42 373.5,252.66 398,256.78 422.5,256.78" fill="none" stroke="#c3c3c3" stroke-width="0.85" stroke-linejoin="round"/>
<polyline points="298.5,265.02 310,252.66 321.9,250.6 335,244.42 349,246.48 373.5,254.72 398,258.84 422.5,258.84" fill="none" stroke="#c3c3c3" stroke-width="0.85" stroke-linejoin="round"/>
<polyline points="298.5,266.26 310,254.72 321.9,254.72 335,246.48 349,248.54 373.5,256.78 398,260.9 422.5,260.9" fill="none" stroke="#c3c3c3" stroke-width="0.85" stroke-linejoin="round"/>
<polyline points="298.5,263.37 310,251.84 321.9,253.07 335,237.83 349,241.12 373.5,251.84 398,255.54 422.5,255.96" fill="none" stroke="#c3c3c3" stroke-width="0.85" stroke-linejoin="round"/>
<polyline points="298.5,258.43 310,246.07 321.9,244.83 335,249.36 349,243.6 373.5,255.13 398,257.19 422.5,261.31" fill="none" stroke="#c3c3c3" stroke-width="0.85" stroke-linejoin="round"/>
<polyline points="298.5,260.08 310,256.78 321.9,259.25 335,248.54 349,250.6 373.5,272.85 398,260.9 422.5,262.96" fill="none" stroke="#c3c3c3" stroke-width="0.85" stroke-linejoin="round"/>
<polyline points="298.5,261.72 310,250.6 321.9,252.66 335,252.66 349,256.78 373.5,260.9 398,271.61 422.5,264.61" fill="none" stroke="#c3c3c3" stroke-width="0.85" stroke-linejoin="round"/>
<polyline points="298.5,254.72 310,244.42 321.9,246.48 335,256.78 349,260.9 373.5,262.96 398,262.96 422.5,262.96" fill="none" stroke="#c3c3c3" stroke-width="0.85" stroke-linejoin="round"/>
<polyline points="298.5,264.2 310,249.36 321.9,249.36 335,232.06 349,236.18 373.5,244.42 398,252.66 422.5,256.78" fill="none" stroke="#c3c3c3" stroke-width="0.85" stroke-linejoin="round"/>
<polyline points="298.5,257.6 310,237 321.9,242.36 335,237 349,239.48 373.5,248.54 398,255.96 422.5,257.6" fill="none" stroke="#c3c3c3" stroke-width="0.85" stroke-linejoin="round"/>
<polyline points="298.5,262.55 310,245.24 321.9,239.48 335,241.12 349,243.6 373.5,249.36 398,260.08 422.5,261.72" fill="none" stroke="#c3c3c3" stroke-width="0.85" stroke-linejoin="round"/>
<polyline points="298.5,265.43 310,253.48 321.9,242.36 335,245.24 349,251.84 373.5,258.84 398,261.72 422.5,260.08" fill="none" stroke="#c3c3c3" stroke-width="0.85" stroke-linejoin="round"/>
<polyline points="298.5,259.25 310,241.12 321.9,230 335,250.19 349,253.48 373.5,255.96 398,257.6 422.5,253.48" fill="none" stroke="#c3c3c3" stroke-width="0.85" stroke-linejoin="round"/>
<polyline points="298.5,253.48 310,247.72 321.9,255.96 335,240.3 349,235.36 373.5,246.48 398,254.31 422.5,258.43" fill="none" stroke="#c3c3c3" stroke-width="0.85" stroke-linejoin="round"/>
<circle cx="298.5" cy="256.78" r="0.9" fill="#c3c3c3"/>
<circle cx="310" cy="235.36" r="0.9" fill="#c3c3c3"/>
<circle cx="321.9" cy="232.06" r="0.9" fill="#c3c3c3"/>
<circle cx="335" cy="222.17" r="0.9" fill="#c3c3c3"/>
<circle cx="349" cy="232.88" r="0.9" fill="#c3c3c3"/>
<circle cx="373.5" cy="252.66" r="0.9" fill="#c3c3c3"/>
<circle cx="398" cy="256.78" r="0.9" fill="#c3c3c3"/>
<circle cx="422.5" cy="258.84" r="0.9" fill="#c3c3c3"/>
<circle cx="298.5" cy="250.19" r="0.9" fill="#c3c3c3"/>
<circle cx="310" cy="238.24" r="0.9" fill="#c3c3c3"/>
<circle cx="321.9" cy="234.12" r="0.9" fill="#c3c3c3"/>
<circle cx="335" cy="230" r="0.9" fill="#c3c3c3"/>
<circle cx="373.5" cy="211.87" r="0.9" fill="#c3c3c3"/>
<circle cx="422.5" cy="260.9" r="0.9" fill="#c3c3c3"/>
<circle cx="298.5" cy="258.84" r="0.9" fill="#c3c3c3"/>
<circle cx="310" cy="242.36" r="0.9" fill="#c3c3c3"/>
<circle cx="321.9" cy="238.24" r="0.9" fill="#c3c3c3"/>
<circle cx="335" cy="234.94" r="0.9" fill="#c3c3c3"/>
<circle cx="349" cy="237.83" r="0.9" fill="#c3c3c3"/>
<circle cx="373.5" cy="236.59" r="0.9" fill="#c3c3c3"/>
<circle cx="398" cy="250.6" r="0.9" fill="#c3c3c3"/>
<circle cx="422.5" cy="251.42" r="0.9" fill="#c3c3c3"/>
<circle cx="298.5" cy="260.9" r="0.9" fill="#c3c3c3"/>
<circle cx="310" cy="246.48" r="0.9" fill="#c3c3c3"/>
<circle cx="321.9" cy="244.42" r="0.9" fill="#c3c3c3"/>
<circle cx="335" cy="239.06" r="0.9" fill="#c3c3c3"/>
<circle cx="349" cy="242.36" r="0.9" fill="#c3c3c3"/>
<circle cx="373.5" cy="250.6" r="0.9" fill="#c3c3c3"/>
<circle cx="398" cy="254.72" r="0.9" fill="#c3c3c3"/>
<circle cx="422.5" cy="254.72" r="0.9" fill="#c3c3c3"/>
<circle cx="298.5" cy="262.96" r="0.9" fill="#c3c3c3"/>
<circle cx="310" cy="248.54" r="0.9" fill="#c3c3c3"/>
<circle cx="321.9" cy="248.54" r="0.9" fill="#c3c3c3"/>
<circle cx="335" cy="242.36" r="0.9" fill="#c3c3c3"/>
<circle cx="349" cy="244.42" r="0.9" fill="#c3c3c3"/>
<circle cx="373.5" cy="252.66" r="0.9" fill="#c3c3c3"/>
<circle cx="398" cy="256.78" r="0.9" fill="#c3c3c3"/>
<circle cx="422.5" cy="256.78" r="0.9" fill="#c3c3c3"/>
<circle cx="298.5" cy="265.02" r="0.9" fill="#c3c3c3"/>
<circle cx="310" cy="252.66" r="0.9" fill="#c3c3c3"/>
<circle cx="321.9" cy="250.6" r="0.9" fill="#c3c3c3"/>
<circle cx="335" cy="244.42" r="0.9" fill="#c3c3c3"/>
<circle cx="349" cy="246.48" r="0.9" fill="#c3c3c3"/>
<circle cx="373.5" cy="254.72" r="0.9" fill="#c3c3c3"/>
<circle cx="398" cy="258.84" r="0.9" fill="#c3c3c3"/>
<circle cx="422.5" cy="258.84" r="0.9" fill="#c3c3c3"/>
<circle cx="298.5" cy="266.26" r="0.9" fill="#c3c3c3"/>
<circle cx="310" cy="254.72" r="0.9" fill="#c3c3c3"/>
<circle cx="321.9" cy="254.72" r="0.9" fill="#c3c3c3"/>
<circle cx="335" cy="246.48" r="0.9" fill="#c3c3c3"/>
<circle cx="349" cy="248.54" r="0.9" fill="#c3c3c3"/>
<circle cx="373.5" cy="256.78" r="0.9" fill="#c3c3c3"/>
<circle cx="398" cy="260.9" r="0.9" fill="#c3c3c3"/>
<circle cx="422.5" cy="260.9" r="0.9" fill="#c3c3c3"/>
<circle cx="298.5" cy="263.37" r="0.9" fill="#c3c3c3"/>
<circle cx="310" cy="251.84" r="0.9" fill="#c3c3c3"/>
<circle cx="321.9" cy="253.07" r="0.9" fill="#c3c3c3"/>
<circle cx="335" cy="237.83" r="0.9" fill="#c3c3c3"/>
<circle cx="349" cy="241.12" r="0.9" fill="#c3c3c3"/>
<circle cx="373.5" cy="251.84" r="0.9" fill="#c3c3c3"/>
<circle cx="398" cy="255.54" r="0.9" fill="#c3c3c3"/>
<circle cx="422.5" cy="255.96" r="0.9" fill="#c3c3c3"/>
<circle cx="298.5" cy="258.43" r="0.9" fill="#c3c3c3"/>
<circle cx="310" cy="246.07" r="0.9" fill="#c3c3c3"/>
<circle cx="321.9" cy="244.83" r="0.9" fill="#c3c3c3"/>
<circle cx="335" cy="249.36" r="0.9" fill="#c3c3c3"/>
<circle cx="349" cy="243.6" r="0.9" fill="#c3c3c3"/>
<circle cx="373.5" cy="255.13" r="0.9" fill="#c3c3c3"/>
<circle cx="398" cy="257.19" r="0.9" fill="#c3c3c3"/>
<circle cx="422.5" cy="261.31" r="0.9" fill="#c3c3c3"/>
<circle cx="298.5" cy="260.08" r="0.9" fill="#c3c3c3"/>
<circle cx="310" cy="256.78" r="0.9" fill="#c3c3c3"/>
<circle cx="321.9" cy="259.25" r="0.9" fill="#c3c3c3"/>
<circle cx="335" cy="248.54" r="0.9" fill="#c3c3c3"/>
<circle cx="349" cy="250.6" r="0.9" fill="#c3c3c3"/>
<circle cx="373.5" cy="272.85" r="0.9" fill="#c3c3c3"/>
<circle cx="398" cy="260.9" r="0.9" fill="#c3c3c3"/>
<circle cx="422.5" cy="262.96" r="0.9" fill="#c3c3c3"/>
<circle cx="298.5" cy="261.72" r="0.9" fill="#c3c3c3"/>
<circle cx="310" cy="250.6" r="0.9" fill="#c3c3c3"/>
<circle cx="321.9" cy="252.66" r="0.9" fill="#c3c3c3"/>
<circle cx="335" cy="252.66" r="0.9" fill="#c3c3c3"/>
<circle cx="349" cy="256.78" r="0.9" fill="#c3c3c3"/>
<circle cx="373.5" cy="260.9" r="0.9" fill="#c3c3c3"/>
<circle cx="398" cy="271.61" r="0.9" fill="#c3c3c3"/>
<circle cx="422.5" cy="264.61" r="0.9" fill="#c3c3c3"/>
<circle cx="298.5" cy="254.72" r="0.9" fill="#c3c3c3"/>
<circle cx="310" cy="244.42" r="0.9" fill="#c3c3c3"/>
<circle cx="321.9" cy="246.48" r="0.9" fill="#c3c3c3"/>
<circle cx="335" cy="256.78" r="0.9" fill="#c3c3c3"/>
<circle cx="349" cy="260.9" r="0.9" fill="#c3c3c3"/>
<circle cx="373.5" cy="262.96" r="0.9" fill="#c3c3c3"/>
<circle cx="398" cy="262.96" r="0.9" fill="#c3c3c3"/>
<circle cx="422.5" cy="262.96" r="0.9" fill="#c3c3c3"/>
<circle cx="298.5" cy="264.2" r="0.9" fill="#c3c3c3"/>
<circle cx="310" cy="249.36" r="0.9" fill="#c3c3c3"/>
<circle cx="321.9" cy="249.36" r="0.9" fill="#c3c3c3"/>
<circle cx="335" cy="232.06" r="0.9" fill="#c3c3c3"/>
<circle cx="349" cy="236.18" r="0.9" fill="#c3c3c3"/>
<circle cx="373.5" cy="244.42" r="0.9" fill="#c3c3c3"/>
<circle cx="398" cy="252.66" r="0.9" fill="#c3c3c3"/>
<circle cx="422.5" cy="256.78" r="0.9" fill="#c3c3c3"/>
<circle cx="298.5" cy="257.6" r="0.9" fill="#c3c3c3"/>
<circle cx="310" cy="237" r="0.9" fill="#c3c3c3"/>
<circle cx="321.9" cy="242.36" r="0.9" fill="#c3c3c3"/>
<circle cx="335" cy="237" r="0.9" fill="#c3c3c3"/>
<circle cx="349" cy="239.48" r="0.9" fill="#c3c3c3"/>
<circle cx="373.5" cy="248.54" r="0.9" fill="#c3c3c3"/>
<circle cx="398" cy="255.96" r="0.9" fill="#c3c3c3"/>
<circle cx="422.5" cy="257.6" r="0.9" fill="#c3c3c3"/>
<circle cx="298.5" cy="262.55" r="0.9" fill="#c3c3c3"/>
<circle cx="310" cy="245.24" r="0.9" fill="#c3c3c3"/>
<circle cx="321.9" cy="239.48" r="0.9" fill="#c3c3c3"/>
<circle cx="335" cy="241.12" r="0.9" fill="#c3c3c3"/>
<circle cx="349" cy="243.6" r="0.9" fill="#c3c3c3"/>
<circle cx="373.5" cy="249.36" r="0.9" fill="#c3c3c3"/>
<circle cx="398" cy="260.08" r="0.9" fill="#c3c3c3"/>
<circle cx="422.5" cy="261.72" r="0.9" fill="#c3c3c3"/>
<circle cx="298.5" cy="265.43" r="0.9" fill="#c3c3c3"/>
<circle cx="310" cy="253.48" r="0.9" fill="#c3c3c3"/>
<circle cx="321.9" cy="242.36" r="0.9" fill="#c3c3c3"/>
<circle cx="335" cy="245.24" r="0.9" fill="#c3c3c3"/>
<circle cx="349" cy="251.84" r="0.9" fill="#c3c3c3"/>
<circle cx="373.5" cy="258.84" r="0.9" fill="#c3c3c3"/>
<circle cx="398" cy="261.72" r="0.9" fill="#c3c3c3"/>
<circle cx="422.5" cy="260.08" r="0.9" fill="#c3c3c3"/>
<circle cx="298.5" cy="259.25" r="0.9" fill="#c3c3c3"/>
<circle cx="310" cy="241.12" r="0.9" fill="#c3c3c3"/>
<circle cx="321.9" cy="230" r="0.9" fill="#c3c3c3"/>
<circle cx="335" cy="250.19" r="0.9" fill="#c3c3c3"/>
<circle cx="349" cy="253.48" r="0.9" fill="#c3c3c3"/>
<circle cx="373.5" cy="255.96" r="0.9" fill="#c3c3c3"/>
<circle cx="398" cy="257.6" r="0.9" fill="#c3c3c3"/>
<circle cx="422.5" cy="253.48" r="0.9" fill="#c3c3c3"/>
<circle cx="298.5" cy="253.48" r="0.9" fill="#c3c3c3"/>
<circle cx="310" cy="247.72" r="0.9" fill="#c3c3c3"/>
<circle cx="321.9" cy="255.96" r="0.9" fill="#c3c3c3"/>
<circle cx="335" cy="240.3" r="0.9" fill="#c3c3c3"/>
<circle cx="349" cy="235.36" r="0.9" fill="#c3c3c3"/>
<circle cx="373.5" cy="246.48" r="0.9" fill="#c3c3c3"/>
<circle cx="398" cy="254.31" r="0.9" fill="#c3c3c3"/>
<circle cx="422.5" cy="258.43" r="0.9" fill="#c3c3c3"/>
<polygon points="298.5,257.69 310,247.22 321.9,246.6 335,240.34 349,242.44 373.5,250.31 398,255.3 422.5,257.19 422.5,262.14 398,260.24 373.5,256.08 349,249.03 335,246.93 321.9,253.2 310,253.81 298.5,263.45" fill="#e2e2f2" />
<polyline points="298.5,260.57 310,250.52 321.9,249.9 335,243.64 349,245.74 373.5,253.2 398,257.77 422.5,259.66" fill="none" stroke="#8383c4" stroke-width="1.6" stroke-linejoin="round"/>
<circle cx="298.5" cy="260.57" r="2.2" fill="#8383c4"/>
<circle cx="310" cy="250.52" r="2.2" fill="#8383c4"/>
<circle cx="321.9" cy="249.9" r="2.2" fill="#8383c4"/>
<circle cx="335" cy="243.64" r="2.2" fill="#8383c4"/>
<circle cx="349" cy="245.74" r="2.2" fill="#8383c4"/>
<circle cx="373.5" cy="253.2" r="2.2" fill="#8383c4"/>
<circle cx="398" cy="257.77" r="2.2" fill="#8383c4"/>
<circle cx="422.5" cy="259.66" r="2.2" fill="#8383c4"/>
</g>
<g stroke="#1e1e1e" stroke-width="1.25" fill="none">
<line x1="298.5" y1="196.5" x2="298.5" y2="284.5"/>
<line x1="295.5" y1="281.5" x2="298.5" y2="281.5"/>
<line x1="295.5" y1="260.9" x2="298.5" y2="260.9"/>
<line x1="295.5" y1="240.3" x2="298.5" y2="240.3"/>
<line x1="295.5" y1="219.7" x2="298.5" y2="219.7"/>
<line x1="295.5" y1="199.1" x2="298.5" y2="199.1"/>
<line x1="298.5" y1="281.5" x2="327.8" y2="281.5"/>
<line x1="327.8" y1="279.9" x2="327.8" y2="283.1"/>
<line x1="310" y1="281.5" x2="310" y2="284.5"/>
<line x1="321.9" y1="281.5" x2="321.9" y2="284.5"/>
<line x1="335" y1="281.5" x2="425.3" y2="281.5"/>
<line x1="335" y1="279.9" x2="335" y2="283.3"/>
<line x1="352.5" y1="281.5" x2="352.5" y2="284.5"/>
<line x1="370" y1="281.5" x2="370" y2="284.5"/>
<line x1="387.5" y1="281.5" x2="387.5" y2="284.5"/>
<line x1="405" y1="281.5" x2="405" y2="284.5"/>
<line x1="422.5" y1="281.5" x2="422.5" y2="284.5"/>
</g>
<g fill="#2e2e2e" stroke="#2e2e2e" stroke-width="0.12">
<text x="292.6" y="283.95" font-size="9.0" text-anchor="end" textLength="4.39" lengthAdjust="spacingAndGlyphs">0</text>
<text x="292.6" y="263.35" font-size="9.0" text-anchor="end" textLength="4.39" lengthAdjust="spacingAndGlyphs">5</text>
<text x="292.6" y="242.75" font-size="9.0" text-anchor="end" textLength="8.79" lengthAdjust="spacingAndGlyphs">10</text>
<text x="292.6" y="222.15" font-size="9.0" text-anchor="end" textLength="8.79" lengthAdjust="spacingAndGlyphs">15</text>
<text x="292.6" y="201.55" font-size="9.0" text-anchor="end" textLength="8.79" lengthAdjust="spacingAndGlyphs">20</text>
<text x="298.5" y="294.8" font-size="9.0" text-anchor="middle" textLength="11.52" lengthAdjust="spacingAndGlyphs">Pre</text>
<text x="310" y="294.8" font-size="9.0" text-anchor="middle" textLength="4.12" lengthAdjust="spacingAndGlyphs">1</text>
<text x="321.9" y="294.8" font-size="9.0" text-anchor="middle" textLength="4.12" lengthAdjust="spacingAndGlyphs">2</text>
<text x="335" y="294.8" font-size="9.0" text-anchor="middle" textLength="4.12" lengthAdjust="spacingAndGlyphs">3</text>
<text x="352.5" y="294.8" font-size="9.0" text-anchor="middle" textLength="4.12" lengthAdjust="spacingAndGlyphs">8</text>
<text x="370" y="294.8" font-size="9.0" text-anchor="middle" textLength="8.23" lengthAdjust="spacingAndGlyphs">13</text>
<text x="387.5" y="294.8" font-size="9.0" text-anchor="middle" textLength="8.23" lengthAdjust="spacingAndGlyphs">18</text>
<text x="405" y="294.8" font-size="9.0" text-anchor="middle" textLength="8.23" lengthAdjust="spacingAndGlyphs">23</text>
<text x="422.5" y="294.8" font-size="9.0" text-anchor="middle" textLength="8.23" lengthAdjust="spacingAndGlyphs">28</text>
<text x="313.55" y="307.8" font-size="10.0" text-anchor="middle" textLength="19.47" lengthAdjust="spacingAndGlyphs">Hours</text>
<text x="380.05" y="307.8" font-size="10.0" text-anchor="middle" textLength="15.04" lengthAdjust="spacingAndGlyphs">Days</text>
</g>
<text transform="translate(276.8,238.4) rotate(-90)" font-size="8.8" fill="#2e2e2e" text-anchor="middle" textLength="23.5" lengthAdjust="spacingAndGlyphs">µg/mL</text>
<text x="313.8" y="189.2" font-size="9.7" fill="#222" stroke="#222" stroke-width="0.1" textLength="96.2" lengthAdjust="spacingAndGlyphs">Estimated total FXIII-B</text>
<rect x="0.5" y="0.5" width="519" height="316" fill="none" stroke="#606060" stroke-width="1"/>
</svg></body></html>
